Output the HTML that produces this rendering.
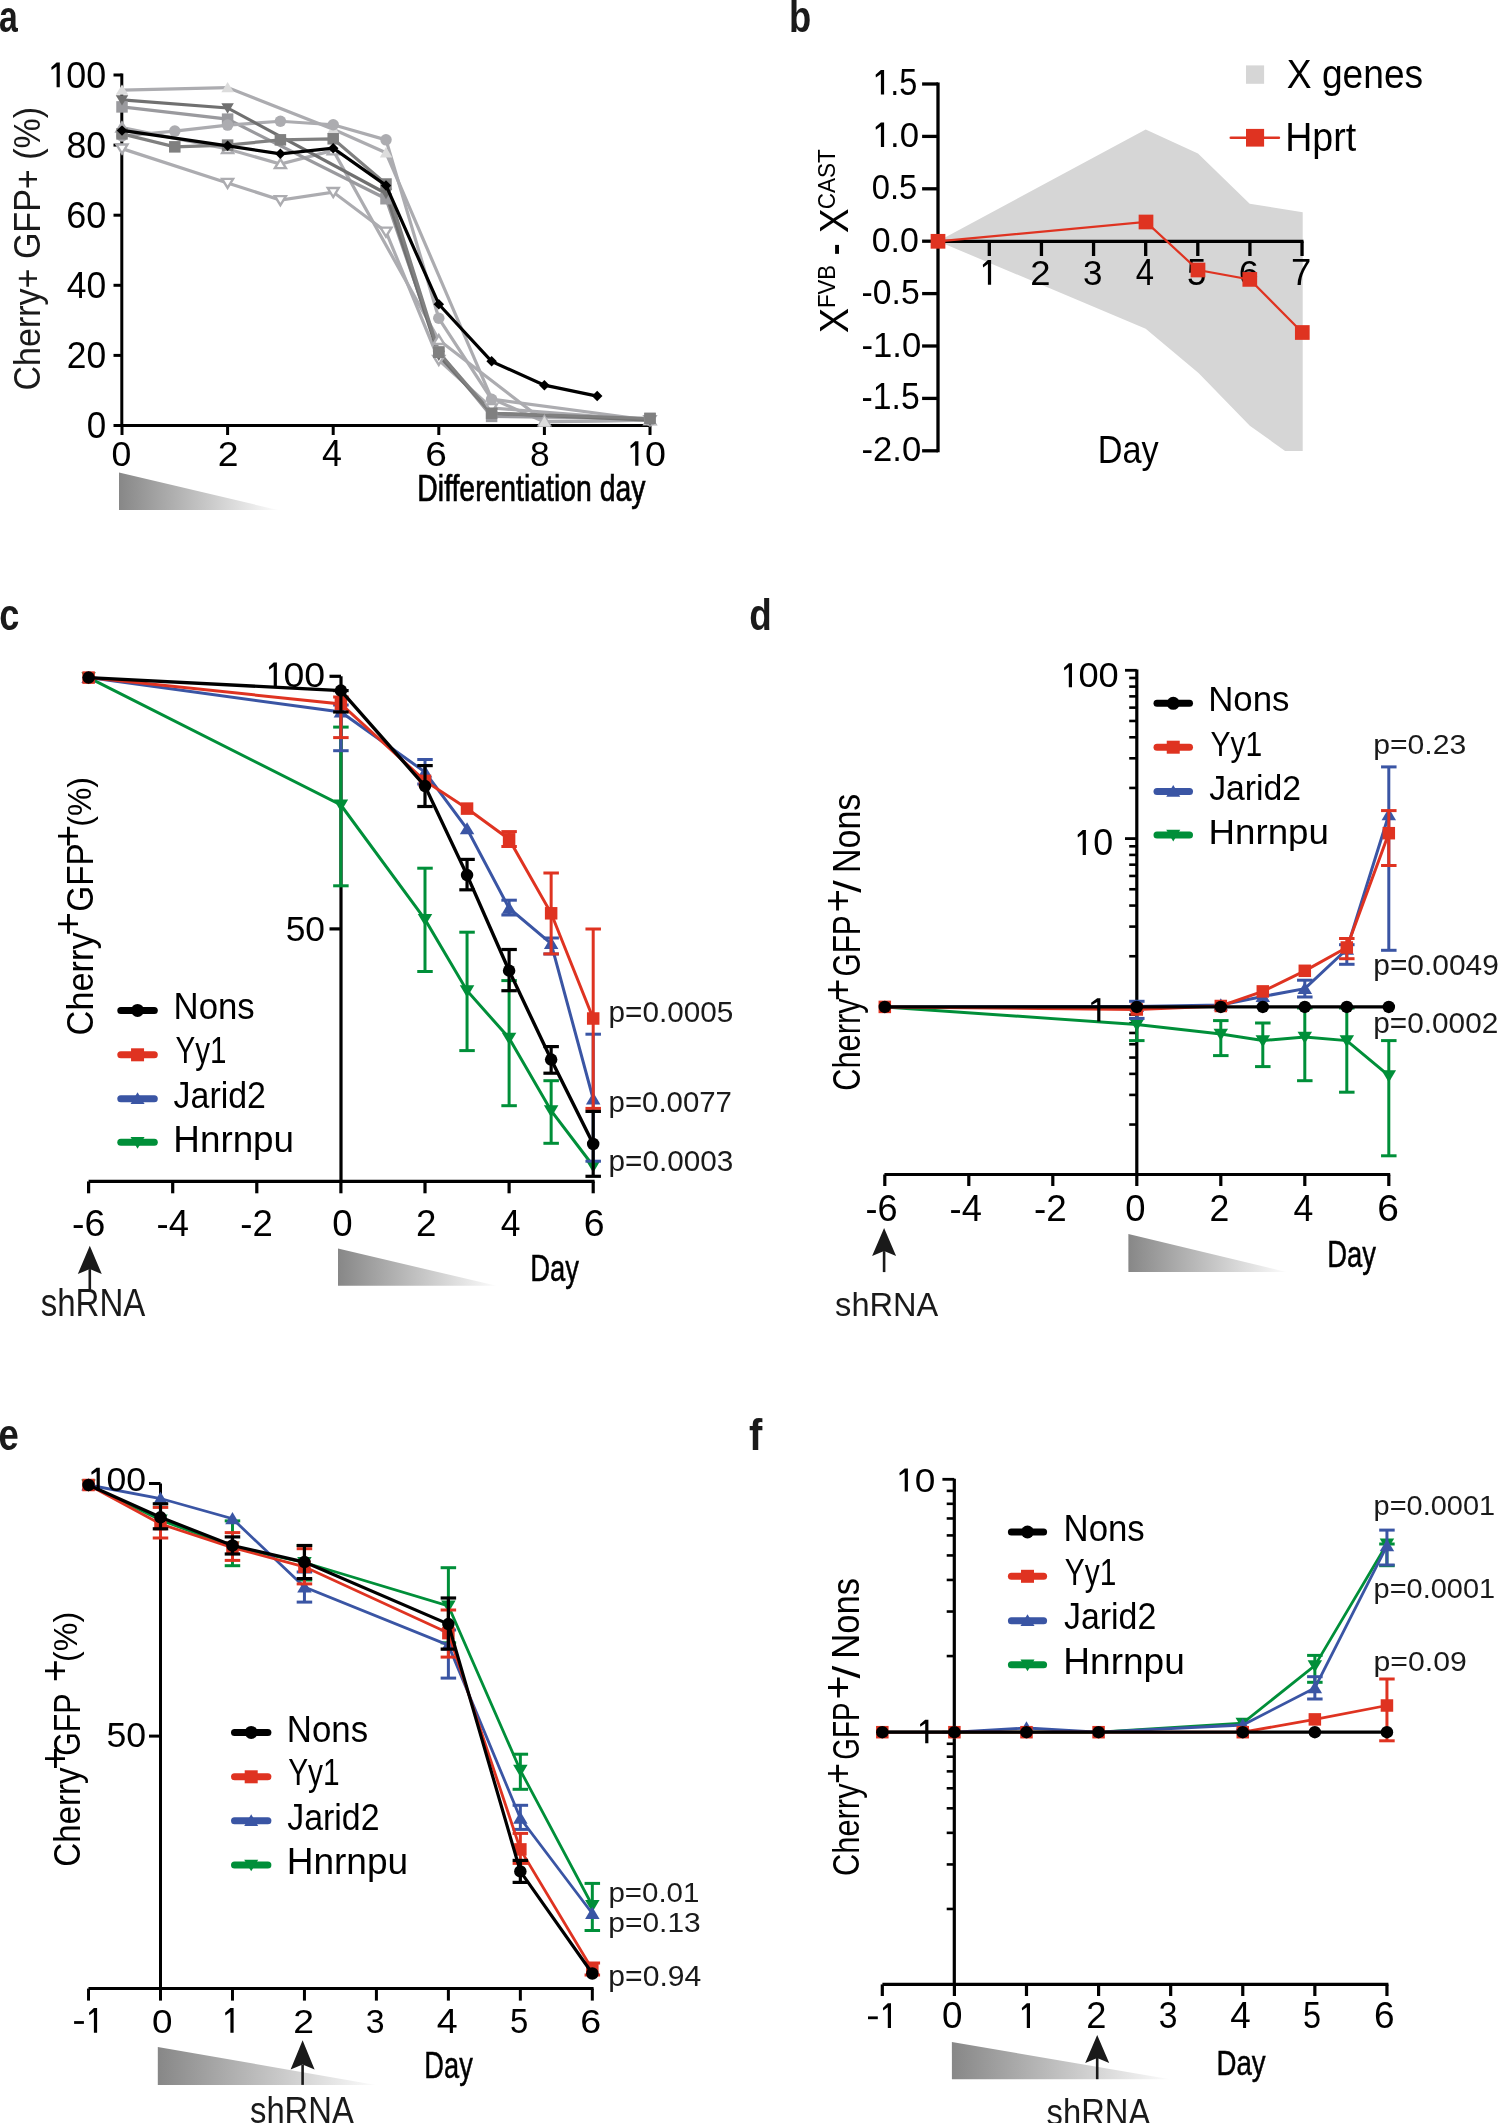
<!DOCTYPE html>
<html><head><meta charset="utf-8"><title>Figure</title>
<style>
html,body{margin:0;padding:0;background:#ffffff;overflow:hidden;}
svg{display:block;will-change:transform;}
text{font-family:"Liberation Sans",sans-serif;}
</style></head>
<body>
<svg width="1498" height="2123" viewBox="0 0 1498 2123">

<text transform="translate(-1.01,32.35) scale(0.7585,1)" font-size="44.57" font-weight="bold" fill="#1a1a1a">a</text>
<line x1="121.80" y1="73.60" x2="121.80" y2="427.00" stroke="#000000" stroke-width="3" stroke-linecap="butt"/>
<line x1="120.30" y1="425.50" x2="651.00" y2="425.50" stroke="#000000" stroke-width="3" stroke-linecap="butt"/>
<line x1="113.50" y1="425.50" x2="121.80" y2="425.50" stroke="#000000" stroke-width="3" stroke-linecap="butt"/>
<line x1="113.50" y1="355.40" x2="121.80" y2="355.40" stroke="#000000" stroke-width="3" stroke-linecap="butt"/>
<line x1="113.50" y1="285.30" x2="121.80" y2="285.30" stroke="#000000" stroke-width="3" stroke-linecap="butt"/>
<line x1="113.50" y1="215.20" x2="121.80" y2="215.20" stroke="#000000" stroke-width="3" stroke-linecap="butt"/>
<line x1="113.50" y1="145.10" x2="121.80" y2="145.10" stroke="#000000" stroke-width="3" stroke-linecap="butt"/>
<line x1="113.50" y1="75.00" x2="121.80" y2="75.00" stroke="#000000" stroke-width="3" stroke-linecap="butt"/>
<line x1="122.00" y1="425.50" x2="122.00" y2="435.00" stroke="#000000" stroke-width="3" stroke-linecap="butt"/>
<line x1="227.60" y1="425.50" x2="227.60" y2="435.00" stroke="#000000" stroke-width="3" stroke-linecap="butt"/>
<line x1="333.20" y1="425.50" x2="333.20" y2="435.00" stroke="#000000" stroke-width="3" stroke-linecap="butt"/>
<line x1="438.80" y1="425.50" x2="438.80" y2="435.00" stroke="#000000" stroke-width="3" stroke-linecap="butt"/>
<line x1="544.40" y1="425.50" x2="544.40" y2="435.00" stroke="#000000" stroke-width="3" stroke-linecap="butt"/>
<line x1="650.00" y1="425.50" x2="650.00" y2="435.00" stroke="#000000" stroke-width="3" stroke-linecap="butt"/>
<polyline points="122.00,127.57 227.60,148.96 280.40,164.03 333.20,150.36 438.80,339.98 544.40,421.29 650.00,420.24" fill="none" stroke="#acacb0" stroke-width="3.2" stroke-linejoin="miter"/>
<polyline points="122.00,148.61 227.60,182.95 280.40,200.13 333.20,192.07 386.00,231.67 438.80,359.96 491.60,407.98 650.00,420.24" fill="none" stroke="#acacb0" stroke-width="3.2" stroke-linejoin="miter"/>
<polyline points="122.00,90.07 227.60,87.62 333.20,129.33 386.00,152.81 491.60,398.51 544.40,422.00 650.00,420.24" fill="none" stroke="#acacb0" stroke-width="3.2" stroke-linejoin="miter"/>
<polyline points="122.00,106.90 227.60,119.16 386.00,198.73 438.80,351.89 491.60,416.39 650.00,418.49" fill="none" stroke="#9a9a9e" stroke-width="3.2" stroke-linejoin="miter"/>
<polyline points="122.00,135.99 174.80,131.08 227.60,125.12 280.40,121.27 333.20,124.77 386.00,139.84 438.80,318.25 491.60,399.21 650.00,420.24" fill="none" stroke="#acacb0" stroke-width="3.2" stroke-linejoin="miter"/>
<polyline points="122.00,99.89 227.60,107.95 386.00,193.47 438.80,355.40 491.60,413.23 650.00,420.24" fill="none" stroke="#707070" stroke-width="3.2" stroke-linejoin="miter"/>
<polyline points="122.00,133.88 174.80,146.85 227.60,145.10 280.40,139.84 333.20,138.79 386.00,184.01 438.80,352.25 491.60,413.23 650.00,418.49" fill="none" stroke="#808080" stroke-width="3.2" stroke-linejoin="miter"/>
<polygon points="122.00,122.62 127.50,131.62 116.50,131.62" fill="#ffffff" stroke="#acacb0" stroke-width="2.4"/>
<polygon points="227.60,144.01 233.10,153.01 222.10,153.01" fill="#ffffff" stroke="#acacb0" stroke-width="2.4"/>
<polygon points="280.40,159.08 285.90,168.08 274.90,168.08" fill="#ffffff" stroke="#acacb0" stroke-width="2.4"/>
<polygon points="333.20,145.41 338.70,154.41 327.70,154.41" fill="#ffffff" stroke="#acacb0" stroke-width="2.4"/>
<polygon points="438.80,335.03 444.30,344.03 433.30,344.03" fill="#ffffff" stroke="#acacb0" stroke-width="2.4"/>
<polygon points="544.40,416.34 549.90,425.34 538.90,425.34" fill="#ffffff" stroke="#acacb0" stroke-width="2.4"/>
<polygon points="650.00,415.29 655.50,424.29 644.50,424.29" fill="#ffffff" stroke="#acacb0" stroke-width="2.4"/>
<polygon points="122.00,153.56 127.50,144.56 116.50,144.56" fill="#ffffff" stroke="#acacb0" stroke-width="2.4"/>
<polygon points="227.60,187.90 233.10,178.90 222.10,178.90" fill="#ffffff" stroke="#acacb0" stroke-width="2.4"/>
<polygon points="280.40,205.08 285.90,196.08 274.90,196.08" fill="#ffffff" stroke="#acacb0" stroke-width="2.4"/>
<polygon points="333.20,197.02 338.70,188.02 327.70,188.02" fill="#ffffff" stroke="#acacb0" stroke-width="2.4"/>
<polygon points="386.00,236.62 391.50,227.62 380.50,227.62" fill="#ffffff" stroke="#acacb0" stroke-width="2.4"/>
<polygon points="438.80,364.91 444.30,355.91 433.30,355.91" fill="#ffffff" stroke="#acacb0" stroke-width="2.4"/>
<polygon points="491.60,412.93 497.10,403.93 486.10,403.93" fill="#ffffff" stroke="#acacb0" stroke-width="2.4"/>
<polygon points="650.00,425.19 655.50,416.19 644.50,416.19" fill="#ffffff" stroke="#acacb0" stroke-width="2.4"/>
<polygon points="122.00,84.38 128.25,94.73 115.75,94.73" fill="#dcdcdc" stroke="none" stroke-width="0"/>
<polygon points="227.60,81.93 233.85,92.28 221.35,92.28" fill="#dcdcdc" stroke="none" stroke-width="0"/>
<polygon points="333.20,123.63 339.45,133.98 326.95,133.98" fill="#dcdcdc" stroke="none" stroke-width="0"/>
<polygon points="386.00,147.12 392.25,157.47 379.75,157.47" fill="#dcdcdc" stroke="none" stroke-width="0"/>
<polygon points="491.60,392.82 497.85,403.17 485.35,403.17" fill="#dcdcdc" stroke="none" stroke-width="0"/>
<polygon points="544.40,416.30 550.65,426.65 538.15,426.65" fill="#dcdcdc" stroke="none" stroke-width="0"/>
<polygon points="650.00,414.55 656.25,424.90 643.75,424.90" fill="#dcdcdc" stroke="none" stroke-width="0"/>
<rect x="116.25" y="101.15" width="11.50" height="11.50" fill="#9a9a9e"/>
<rect x="221.85" y="113.41" width="11.50" height="11.50" fill="#9a9a9e"/>
<rect x="380.25" y="192.98" width="11.50" height="11.50" fill="#9a9a9e"/>
<rect x="433.05" y="346.14" width="11.50" height="11.50" fill="#9a9a9e"/>
<rect x="485.85" y="410.64" width="11.50" height="11.50" fill="#9a9a9e"/>
<rect x="644.25" y="412.74" width="11.50" height="11.50" fill="#9a9a9e"/>
<circle cx="122.00" cy="135.99" r="5.75" fill="#acacb0"/>
<circle cx="174.80" cy="131.08" r="5.75" fill="#acacb0"/>
<circle cx="227.60" cy="125.12" r="5.75" fill="#acacb0"/>
<circle cx="280.40" cy="121.27" r="5.75" fill="#acacb0"/>
<circle cx="333.20" cy="124.77" r="5.75" fill="#acacb0"/>
<circle cx="386.00" cy="139.84" r="5.75" fill="#acacb0"/>
<circle cx="438.80" cy="318.25" r="5.75" fill="#acacb0"/>
<circle cx="491.60" cy="399.21" r="5.75" fill="#acacb0"/>
<circle cx="650.00" cy="420.24" r="5.75" fill="#acacb0"/>
<polygon points="122.00,105.58 128.25,95.23 115.75,95.23" fill="#707070" stroke="none" stroke-width="0"/>
<polygon points="227.60,113.64 233.85,103.29 221.35,103.29" fill="#707070" stroke="none" stroke-width="0"/>
<polygon points="386.00,199.16 392.25,188.81 379.75,188.81" fill="#707070" stroke="none" stroke-width="0"/>
<polygon points="438.80,361.09 445.05,350.74 432.55,350.74" fill="#707070" stroke="none" stroke-width="0"/>
<polygon points="491.60,418.93 497.85,408.57 485.35,408.57" fill="#707070" stroke="none" stroke-width="0"/>
<polygon points="650.00,425.94 656.25,415.58 643.75,415.58" fill="#707070" stroke="none" stroke-width="0"/>
<rect x="116.25" y="128.13" width="11.50" height="11.50" fill="#808080"/>
<rect x="169.05" y="141.10" width="11.50" height="11.50" fill="#808080"/>
<rect x="221.85" y="139.35" width="11.50" height="11.50" fill="#808080"/>
<rect x="274.65" y="134.09" width="11.50" height="11.50" fill="#808080"/>
<rect x="327.45" y="133.04" width="11.50" height="11.50" fill="#808080"/>
<rect x="380.25" y="178.26" width="11.50" height="11.50" fill="#808080"/>
<rect x="433.05" y="346.50" width="11.50" height="11.50" fill="#808080"/>
<rect x="485.85" y="407.48" width="11.50" height="11.50" fill="#808080"/>
<rect x="644.25" y="412.74" width="11.50" height="11.50" fill="#808080"/>
<polyline points="122.00,130.38 227.60,145.80 280.40,153.86 333.20,148.25 386.00,185.41 438.80,304.23 491.60,361.36 544.40,385.19 597.20,396.06" fill="none" stroke="#000000" stroke-width="3.2" stroke-linejoin="miter"/>
<polygon points="122.00,125.13 127.25,130.38 122.00,135.63 116.75,130.38" fill="#000000" stroke="none" stroke-width="0"/>
<polygon points="227.60,140.55 232.85,145.80 227.60,151.05 222.35,145.80" fill="#000000" stroke="none" stroke-width="0"/>
<polygon points="280.40,148.61 285.65,153.86 280.40,159.11 275.15,153.86" fill="#000000" stroke="none" stroke-width="0"/>
<polygon points="333.20,143.00 338.45,148.25 333.20,153.50 327.95,148.25" fill="#000000" stroke="none" stroke-width="0"/>
<polygon points="386.00,180.16 391.25,185.41 386.00,190.66 380.75,185.41" fill="#000000" stroke="none" stroke-width="0"/>
<polygon points="438.80,298.98 444.05,304.23 438.80,309.48 433.55,304.23" fill="#000000" stroke="none" stroke-width="0"/>
<polygon points="491.60,356.11 496.85,361.36 491.60,366.61 486.35,361.36" fill="#000000" stroke="none" stroke-width="0"/>
<polygon points="544.40,379.94 549.65,385.19 544.40,390.44 539.15,385.19" fill="#000000" stroke="none" stroke-width="0"/>
<polygon points="597.20,390.81 602.45,396.06 597.20,401.31 591.95,396.06" fill="#000000" stroke="none" stroke-width="0"/>
<path d="M56.60,62.50 L59.80,62.50 L59.80,87.20 L56.60,87.20 L56.60,66.45 L51.60,69.91 L51.30,67.19 Z" fill="#000000"/>
<text transform="translate(66.37,87.70) scale(0.9841,1)" font-size="36.42" font-weight="normal" fill="#000000">00</text>
<text transform="translate(66.48,157.80) scale(0.9811,1)" font-size="36.42" font-weight="normal" fill="#000000">80</text>
<text transform="translate(66.20,227.90) scale(0.9883,1)" font-size="36.42" font-weight="normal" fill="#000000">60</text>
<text transform="translate(66.80,298.00) scale(0.9729,1)" font-size="36.42" font-weight="normal" fill="#000000">40</text>
<text transform="translate(66.83,368.10) scale(0.9722,1)" font-size="36.42" font-weight="normal" fill="#000000">20</text>
<text transform="translate(86.70,438.20) scale(0.9604,1)" font-size="36.42" font-weight="normal" fill="#000000">0</text>
<text transform="translate(111.58,466.00) scale(0.9933,1)" font-size="35.84" font-weight="normal" fill="#000000">0</text>
<text transform="translate(217.73,466.00) scale(1.0424,1)" font-size="35.84" font-weight="normal" fill="#000000">2</text>
<text transform="translate(322.09,466.00) scale(0.9856,1)" font-size="36.36" font-weight="normal" fill="#000000">4</text>
<text transform="translate(425.15,466.00) scale(1.0858,1)" font-size="35.84" font-weight="normal" fill="#000000">6</text>
<text transform="translate(530.10,466.00) scale(0.9854,1)" font-size="35.84" font-weight="normal" fill="#000000">8</text>
<path d="M635.20,441.20 L638.40,441.20 L638.40,465.80 L635.20,465.80 L635.20,445.14 L630.70,448.58 L630.40,445.87 Z" fill="#000000"/>
<text transform="translate(644.89,466.00) scale(1.0517,1)" font-size="35.84" font-weight="normal" fill="#000000">0</text>
<text transform="translate(417.36,500.60) scale(0.7879,1)" font-size="36.00" font-weight="normal" fill="#000000" stroke="#000000" stroke-width="0.7">Differentiation day</text>
<text transform="translate(40.00,390.50) rotate(-90) scale(0.9206,1)" font-size="36.97" font-weight="normal" fill="#1a1a1a">Cherry+ GFP+ (%)</text>
<defs><linearGradient id="ga" x1="119" y1="0" x2="278.2" y2="0" gradientUnits="userSpaceOnUse"><stop offset="0" stop-color="#878787"/><stop offset="1" stop-color="#fcfcfc"/></linearGradient></defs>
<polygon points="119.00,472.50 278.20,510.10 119.00,510.10" fill="url(#ga)" stroke="none" stroke-width="0"/>
<text transform="translate(789.03,32.15) scale(0.8165,1)" font-size="44.63" font-weight="bold" fill="#1a1a1a">b</text>
<polygon points="938.00,241.20 1145.70,129.40 1198.00,153.40 1249.70,203.70 1302.70,212.30 1302.70,450.90 1285.10,450.90 1249.80,425.80 1198.50,372.90 1145.70,328.80" fill="#d6d6d6" stroke="none" stroke-width="0"/>
<line x1="938.00" y1="82.50" x2="938.00" y2="452.30" stroke="#000000" stroke-width="3.3" stroke-linecap="butt"/>
<line x1="938.00" y1="241.30" x2="1303.50" y2="241.30" stroke="#000000" stroke-width="3.3" stroke-linecap="butt"/>
<line x1="922.10" y1="84.00" x2="938.00" y2="84.00" stroke="#000000" stroke-width="3.3" stroke-linecap="butt"/>
<line x1="922.10" y1="136.40" x2="938.00" y2="136.40" stroke="#000000" stroke-width="3.3" stroke-linecap="butt"/>
<line x1="922.10" y1="188.80" x2="938.00" y2="188.80" stroke="#000000" stroke-width="3.3" stroke-linecap="butt"/>
<line x1="922.10" y1="241.20" x2="938.00" y2="241.20" stroke="#000000" stroke-width="3.3" stroke-linecap="butt"/>
<line x1="922.10" y1="293.60" x2="938.00" y2="293.60" stroke="#000000" stroke-width="3.3" stroke-linecap="butt"/>
<line x1="922.10" y1="346.00" x2="938.00" y2="346.00" stroke="#000000" stroke-width="3.3" stroke-linecap="butt"/>
<line x1="922.10" y1="398.40" x2="938.00" y2="398.40" stroke="#000000" stroke-width="3.3" stroke-linecap="butt"/>
<line x1="922.10" y1="450.80" x2="938.00" y2="450.80" stroke="#000000" stroke-width="3.3" stroke-linecap="butt"/>
<line x1="989.32" y1="241.30" x2="989.32" y2="256.00" stroke="#000000" stroke-width="3.3" stroke-linecap="butt"/>
<line x1="1041.44" y1="241.30" x2="1041.44" y2="256.00" stroke="#000000" stroke-width="3.3" stroke-linecap="butt"/>
<line x1="1093.56" y1="241.30" x2="1093.56" y2="256.00" stroke="#000000" stroke-width="3.3" stroke-linecap="butt"/>
<line x1="1145.68" y1="241.30" x2="1145.68" y2="256.00" stroke="#000000" stroke-width="3.3" stroke-linecap="butt"/>
<line x1="1197.80" y1="241.30" x2="1197.80" y2="256.00" stroke="#000000" stroke-width="3.3" stroke-linecap="butt"/>
<line x1="1249.92" y1="241.30" x2="1249.92" y2="256.00" stroke="#000000" stroke-width="3.3" stroke-linecap="butt"/>
<line x1="1302.04" y1="241.30" x2="1302.04" y2="256.00" stroke="#000000" stroke-width="3.3" stroke-linecap="butt"/>
<path d="M880.90,70.00 L884.10,70.00 L884.10,94.60 L880.90,94.60 L880.90,73.94 L875.90,77.38 L875.60,74.67 Z" fill="#000000"/>
<text transform="translate(890.18,94.60) scale(0.8997,1)" font-size="36.07" font-weight="normal" fill="#000000">.5</text>
<path d="M880.90,122.40 L884.10,122.40 L884.10,147.00 L880.90,147.00 L880.90,126.34 L875.90,129.78 L875.60,127.07 Z" fill="#000000"/>
<text transform="translate(889.97,147.00) scale(0.9774,1)" font-size="35.56" font-weight="normal" fill="#000000">.0</text>
<text transform="translate(871.79,199.40) scale(0.9189,1)" font-size="35.56" font-weight="normal" fill="#000000">0.5</text>
<text transform="translate(871.74,251.80) scale(0.9536,1)" font-size="35.56" font-weight="normal" fill="#000000">0.0</text>
<text transform="translate(861.58,304.20) scale(0.9481,1)" font-size="35.56" font-weight="normal" fill="#000000">-0.5</text>
<text transform="translate(861.54,356.60) scale(0.9741,1)" font-size="35.56" font-weight="normal" fill="#000000">-1.0</text>
<text transform="translate(861.58,409.00) scale(0.9345,1)" font-size="36.07" font-weight="normal" fill="#000000">-1.5</text>
<text transform="translate(861.54,461.40) scale(0.9741,1)" font-size="35.56" font-weight="normal" fill="#000000">-2.0</text>
<path d="M987.90,260.00 L991.10,260.00 L991.10,284.70 L987.90,284.70 L987.90,263.95 L983.10,267.41 L982.80,264.69 Z" fill="#000000"/>
<text transform="translate(1030.32,284.90) scale(1.0261,1)" font-size="35.56" font-weight="normal" fill="#000000">2</text>
<text transform="translate(1082.95,284.90) scale(0.9829,1)" font-size="35.56" font-weight="normal" fill="#000000">3</text>
<text transform="translate(1135.64,284.90) scale(0.9113,1)" font-size="36.07" font-weight="normal" fill="#000000">4</text>
<text transform="translate(1187.10,284.90) scale(0.9688,1)" font-size="36.07" font-weight="normal" fill="#000000">5</text>
<text transform="translate(1238.83,284.90) scale(1.0095,1)" font-size="35.56" font-weight="normal" fill="#000000">6</text>
<text transform="translate(1290.92,284.90) scale(1.0114,1)" font-size="36.07" font-weight="normal" fill="#000000">7</text>
<text transform="translate(1097.67,463.10) scale(0.9027,1)" font-size="37.96" font-weight="normal" fill="#000000">Day</text>
<polyline points="938.00,241.30 1146.00,222.00 1198.00,270.00 1249.80,279.40 1302.30,332.50" fill="none" stroke="#df3321" stroke-width="2.2" stroke-linejoin="miter"/>
<rect x="930.65" y="233.95" width="14.70" height="14.70" fill="#df3321"/>
<rect x="1138.65" y="214.65" width="14.70" height="14.70" fill="#df3321"/>
<rect x="1190.65" y="262.65" width="14.70" height="14.70" fill="#df3321"/>
<rect x="1242.45" y="272.05" width="14.70" height="14.70" fill="#df3321"/>
<rect x="1294.95" y="325.15" width="14.70" height="14.70" fill="#df3321"/>
<rect x="1246" y="65.4" width="18.1" height="18.4" fill="#d6d6d6"/>
<text transform="translate(1286.76,87.90) scale(0.9161,1)" font-size="40.58" font-weight="normal" fill="#000000">X genes</text>
<line x1="1230.80" y1="137.70" x2="1278.90" y2="137.70" stroke="#df3321" stroke-width="2.6" stroke-linecap="round"/>
<rect x="1246" y="128.9" width="18.1" height="17.7" fill="#df3321"/>
<text transform="translate(1285.20,150.60) scale(0.9389,1)" font-size="40.00" font-weight="normal" fill="#000000">Hprt</text>
<text transform="translate(847.90,332.94) rotate(-90) scale(0.9324,1)" font-size="40.15" font-weight="normal" fill="#000000">X</text>
<text transform="translate(835.10,307.93) rotate(-90) scale(0.9121,1)" font-size="24.29" font-weight="normal" fill="#000000">FVB</text>
<text transform="translate(850.45,255.55) rotate(-90) scale(0.7300,1)" font-size="50.32" font-weight="normal" fill="#000000">-</text>
<text transform="translate(847.80,233.03) rotate(-90) scale(0.9137,1)" font-size="40.44" font-weight="normal" fill="#000000">X</text>
<text transform="translate(834.80,209.33) rotate(-90) scale(0.9672,1)" font-size="23.37" font-weight="normal" fill="#000000">CAST</text>
<text transform="translate(-0.64,630.06) scale(0.8134,1)" font-size="44.38" font-weight="bold" fill="#1a1a1a">c</text>
<line x1="341.00" y1="676.30" x2="341.00" y2="1183.00" stroke="#000000" stroke-width="3.2" stroke-linecap="butt"/>
<line x1="88.60" y1="1181.40" x2="594.60" y2="1181.40" stroke="#000000" stroke-width="3.2" stroke-linecap="butt"/>
<line x1="329.50" y1="676.30" x2="341.00" y2="676.30" stroke="#000000" stroke-width="3.2" stroke-linecap="butt"/>
<line x1="329.50" y1="928.90" x2="341.00" y2="928.90" stroke="#000000" stroke-width="3.2" stroke-linecap="butt"/>
<line x1="88.60" y1="1181.40" x2="88.60" y2="1193.30" stroke="#000000" stroke-width="3.2" stroke-linecap="butt"/>
<line x1="172.70" y1="1181.40" x2="172.70" y2="1193.30" stroke="#000000" stroke-width="3.2" stroke-linecap="butt"/>
<line x1="256.80" y1="1181.40" x2="256.80" y2="1193.30" stroke="#000000" stroke-width="3.2" stroke-linecap="butt"/>
<line x1="340.90" y1="1181.40" x2="340.90" y2="1193.30" stroke="#000000" stroke-width="3.2" stroke-linecap="butt"/>
<line x1="425.00" y1="1181.40" x2="425.00" y2="1193.30" stroke="#000000" stroke-width="3.2" stroke-linecap="butt"/>
<line x1="509.10" y1="1181.40" x2="509.10" y2="1193.30" stroke="#000000" stroke-width="3.2" stroke-linecap="butt"/>
<line x1="593.20" y1="1181.40" x2="593.20" y2="1193.30" stroke="#000000" stroke-width="3.2" stroke-linecap="butt"/>
<line x1="340.90" y1="727.10" x2="340.90" y2="885.80" stroke="#008f39" stroke-width="3.0" stroke-linecap="butt"/>
<line x1="333.15" y1="727.10" x2="348.65" y2="727.10" stroke="#008f39" stroke-width="3.0" stroke-linecap="butt"/>
<line x1="333.15" y1="885.80" x2="348.65" y2="885.80" stroke="#008f39" stroke-width="3.0" stroke-linecap="butt"/>
<line x1="425.00" y1="868.20" x2="425.00" y2="971.50" stroke="#008f39" stroke-width="3.0" stroke-linecap="butt"/>
<line x1="417.25" y1="868.20" x2="432.75" y2="868.20" stroke="#008f39" stroke-width="3.0" stroke-linecap="butt"/>
<line x1="417.25" y1="971.50" x2="432.75" y2="971.50" stroke="#008f39" stroke-width="3.0" stroke-linecap="butt"/>
<line x1="467.05" y1="932.20" x2="467.05" y2="1050.60" stroke="#008f39" stroke-width="3.0" stroke-linecap="butt"/>
<line x1="459.30" y1="932.20" x2="474.80" y2="932.20" stroke="#008f39" stroke-width="3.0" stroke-linecap="butt"/>
<line x1="459.30" y1="1050.60" x2="474.80" y2="1050.60" stroke="#008f39" stroke-width="3.0" stroke-linecap="butt"/>
<line x1="509.10" y1="980.60" x2="509.10" y2="1105.70" stroke="#008f39" stroke-width="3.0" stroke-linecap="butt"/>
<line x1="501.35" y1="980.60" x2="516.85" y2="980.60" stroke="#008f39" stroke-width="3.0" stroke-linecap="butt"/>
<line x1="501.35" y1="1105.70" x2="516.85" y2="1105.70" stroke="#008f39" stroke-width="3.0" stroke-linecap="butt"/>
<line x1="551.15" y1="1080.70" x2="551.15" y2="1143.30" stroke="#008f39" stroke-width="3.0" stroke-linecap="butt"/>
<line x1="543.40" y1="1080.70" x2="558.90" y2="1080.70" stroke="#008f39" stroke-width="3.0" stroke-linecap="butt"/>
<line x1="543.40" y1="1143.30" x2="558.90" y2="1143.30" stroke="#008f39" stroke-width="3.0" stroke-linecap="butt"/>
<polyline points="88.60,677.60 340.90,805.00 425.00,919.40 467.05,990.70 509.10,1038.10 551.15,1110.70 593.20,1166.00" fill="none" stroke="#008f39" stroke-width="3.0" stroke-linejoin="miter"/>
<polygon points="88.60,684.28 95.85,672.13 81.35,672.13" fill="#008f39" stroke="none" stroke-width="0"/>
<polygon points="340.90,811.68 348.15,799.53 333.65,799.53" fill="#008f39" stroke="none" stroke-width="0"/>
<polygon points="425.00,926.08 432.25,913.93 417.75,913.93" fill="#008f39" stroke="none" stroke-width="0"/>
<polygon points="467.05,997.38 474.30,985.23 459.80,985.23" fill="#008f39" stroke="none" stroke-width="0"/>
<polygon points="509.10,1044.78 516.35,1032.63 501.85,1032.63" fill="#008f39" stroke="none" stroke-width="0"/>
<polygon points="551.15,1117.38 558.40,1105.23 543.90,1105.23" fill="#008f39" stroke="none" stroke-width="0"/>
<polygon points="593.20,1172.68 600.45,1160.53 585.95,1160.53" fill="#008f39" stroke="none" stroke-width="0"/>
<line x1="340.90" y1="705.00" x2="340.90" y2="750.70" stroke="#3a55a4" stroke-width="3.0" stroke-linecap="butt"/>
<line x1="333.15" y1="705.00" x2="348.65" y2="705.00" stroke="#3a55a4" stroke-width="3.0" stroke-linecap="butt"/>
<line x1="333.15" y1="750.70" x2="348.65" y2="750.70" stroke="#3a55a4" stroke-width="3.0" stroke-linecap="butt"/>
<line x1="425.00" y1="759.50" x2="425.00" y2="784.00" stroke="#3a55a4" stroke-width="3.0" stroke-linecap="butt"/>
<line x1="417.25" y1="759.50" x2="432.75" y2="759.50" stroke="#3a55a4" stroke-width="3.0" stroke-linecap="butt"/>
<line x1="417.25" y1="784.00" x2="432.75" y2="784.00" stroke="#3a55a4" stroke-width="3.0" stroke-linecap="butt"/>
<line x1="509.10" y1="900.20" x2="509.10" y2="915.00" stroke="#3a55a4" stroke-width="3.0" stroke-linecap="butt"/>
<line x1="501.35" y1="900.20" x2="516.85" y2="900.20" stroke="#3a55a4" stroke-width="3.0" stroke-linecap="butt"/>
<line x1="501.35" y1="915.00" x2="516.85" y2="915.00" stroke="#3a55a4" stroke-width="3.0" stroke-linecap="butt"/>
<line x1="551.15" y1="938.00" x2="551.15" y2="954.00" stroke="#3a55a4" stroke-width="3.0" stroke-linecap="butt"/>
<line x1="543.40" y1="938.00" x2="558.90" y2="938.00" stroke="#3a55a4" stroke-width="3.0" stroke-linecap="butt"/>
<line x1="543.40" y1="954.00" x2="558.90" y2="954.00" stroke="#3a55a4" stroke-width="3.0" stroke-linecap="butt"/>
<line x1="593.20" y1="1034.20" x2="593.20" y2="1161.20" stroke="#3a55a4" stroke-width="3.0" stroke-linecap="butt"/>
<line x1="585.45" y1="1034.20" x2="600.95" y2="1034.20" stroke="#3a55a4" stroke-width="3.0" stroke-linecap="butt"/>
<line x1="585.45" y1="1161.20" x2="600.95" y2="1161.20" stroke="#3a55a4" stroke-width="3.0" stroke-linecap="butt"/>
<polyline points="88.60,677.60 340.90,712.00 425.00,772.00 467.05,828.90 509.10,908.20 551.15,943.50 593.20,1099.00" fill="none" stroke="#3a55a4" stroke-width="3.0" stroke-linejoin="miter"/>
<polygon points="88.60,670.92 95.85,683.07 81.35,683.07" fill="#3a55a4" stroke="none" stroke-width="0"/>
<polygon points="340.90,705.32 348.15,717.47 333.65,717.47" fill="#3a55a4" stroke="none" stroke-width="0"/>
<polygon points="425.00,765.32 432.25,777.47 417.75,777.47" fill="#3a55a4" stroke="none" stroke-width="0"/>
<polygon points="467.05,822.22 474.30,834.37 459.80,834.37" fill="#3a55a4" stroke="none" stroke-width="0"/>
<polygon points="509.10,901.52 516.35,913.67 501.85,913.67" fill="#3a55a4" stroke="none" stroke-width="0"/>
<polygon points="551.15,936.82 558.40,948.97 543.90,948.97" fill="#3a55a4" stroke="none" stroke-width="0"/>
<polygon points="593.20,1092.32 600.45,1104.47 585.95,1104.47" fill="#3a55a4" stroke="none" stroke-width="0"/>
<line x1="340.90" y1="697.00" x2="340.90" y2="737.60" stroke="#df3321" stroke-width="3.0" stroke-linecap="butt"/>
<line x1="333.15" y1="697.00" x2="348.65" y2="697.00" stroke="#df3321" stroke-width="3.0" stroke-linecap="butt"/>
<line x1="333.15" y1="737.60" x2="348.65" y2="737.60" stroke="#df3321" stroke-width="3.0" stroke-linecap="butt"/>
<line x1="509.10" y1="831.60" x2="509.10" y2="846.50" stroke="#df3321" stroke-width="3.0" stroke-linecap="butt"/>
<line x1="501.35" y1="831.60" x2="516.85" y2="831.60" stroke="#df3321" stroke-width="3.0" stroke-linecap="butt"/>
<line x1="501.35" y1="846.50" x2="516.85" y2="846.50" stroke="#df3321" stroke-width="3.0" stroke-linecap="butt"/>
<line x1="551.15" y1="873.00" x2="551.15" y2="953.90" stroke="#df3321" stroke-width="3.0" stroke-linecap="butt"/>
<line x1="543.40" y1="873.00" x2="558.90" y2="873.00" stroke="#df3321" stroke-width="3.0" stroke-linecap="butt"/>
<line x1="543.40" y1="953.90" x2="558.90" y2="953.90" stroke="#df3321" stroke-width="3.0" stroke-linecap="butt"/>
<line x1="593.20" y1="929.00" x2="593.20" y2="1108.40" stroke="#df3321" stroke-width="3.0" stroke-linecap="butt"/>
<line x1="585.45" y1="929.00" x2="600.95" y2="929.00" stroke="#df3321" stroke-width="3.0" stroke-linecap="butt"/>
<line x1="585.45" y1="1108.40" x2="600.95" y2="1108.40" stroke="#df3321" stroke-width="3.0" stroke-linecap="butt"/>
<polyline points="88.60,677.60 340.90,704.00 425.00,780.90 467.05,808.60 509.10,839.30 551.15,913.30 593.20,1018.50" fill="none" stroke="#df3321" stroke-width="3.0" stroke-linejoin="miter"/>
<rect x="82.35" y="671.35" width="12.50" height="12.50" fill="#df3321"/>
<rect x="334.65" y="697.75" width="12.50" height="12.50" fill="#df3321"/>
<rect x="418.75" y="774.65" width="12.50" height="12.50" fill="#df3321"/>
<rect x="460.80" y="802.35" width="12.50" height="12.50" fill="#df3321"/>
<rect x="502.85" y="833.05" width="12.50" height="12.50" fill="#df3321"/>
<rect x="544.90" y="907.05" width="12.50" height="12.50" fill="#df3321"/>
<rect x="586.95" y="1012.25" width="12.50" height="12.50" fill="#df3321"/>
<line x1="340.90" y1="690.60" x2="340.90" y2="712.00" stroke="#000000" stroke-width="3.2" stroke-linecap="butt"/>
<line x1="333.15" y1="690.60" x2="348.65" y2="690.60" stroke="#000000" stroke-width="3.2" stroke-linecap="butt"/>
<line x1="333.15" y1="712.00" x2="348.65" y2="712.00" stroke="#000000" stroke-width="3.2" stroke-linecap="butt"/>
<line x1="425.00" y1="765.60" x2="425.00" y2="806.50" stroke="#000000" stroke-width="3.2" stroke-linecap="butt"/>
<line x1="417.25" y1="765.60" x2="432.75" y2="765.60" stroke="#000000" stroke-width="3.2" stroke-linecap="butt"/>
<line x1="417.25" y1="806.50" x2="432.75" y2="806.50" stroke="#000000" stroke-width="3.2" stroke-linecap="butt"/>
<line x1="467.05" y1="859.40" x2="467.05" y2="889.80" stroke="#000000" stroke-width="3.2" stroke-linecap="butt"/>
<line x1="459.30" y1="859.40" x2="474.80" y2="859.40" stroke="#000000" stroke-width="3.2" stroke-linecap="butt"/>
<line x1="459.30" y1="889.80" x2="474.80" y2="889.80" stroke="#000000" stroke-width="3.2" stroke-linecap="butt"/>
<line x1="509.10" y1="949.50" x2="509.10" y2="990.70" stroke="#000000" stroke-width="3.2" stroke-linecap="butt"/>
<line x1="501.35" y1="949.50" x2="516.85" y2="949.50" stroke="#000000" stroke-width="3.2" stroke-linecap="butt"/>
<line x1="501.35" y1="990.70" x2="516.85" y2="990.70" stroke="#000000" stroke-width="3.2" stroke-linecap="butt"/>
<line x1="551.15" y1="1046.60" x2="551.15" y2="1073.20" stroke="#000000" stroke-width="3.2" stroke-linecap="butt"/>
<line x1="543.40" y1="1046.60" x2="558.90" y2="1046.60" stroke="#000000" stroke-width="3.2" stroke-linecap="butt"/>
<line x1="543.40" y1="1073.20" x2="558.90" y2="1073.20" stroke="#000000" stroke-width="3.2" stroke-linecap="butt"/>
<line x1="593.20" y1="1111.40" x2="593.20" y2="1176.30" stroke="#000000" stroke-width="3.2" stroke-linecap="butt"/>
<line x1="585.45" y1="1111.40" x2="600.95" y2="1111.40" stroke="#000000" stroke-width="3.2" stroke-linecap="butt"/>
<line x1="585.45" y1="1176.30" x2="600.95" y2="1176.30" stroke="#000000" stroke-width="3.2" stroke-linecap="butt"/>
<polyline points="88.60,677.60 340.90,690.60 425.00,786.10 467.05,875.10 509.10,970.70 551.15,1059.60 593.20,1144.00" fill="none" stroke="#000000" stroke-width="3.4" stroke-linejoin="miter"/>
<circle cx="88.60" cy="677.60" r="6.25" fill="#000000"/>
<circle cx="340.90" cy="690.60" r="6.25" fill="#000000"/>
<circle cx="425.00" cy="786.10" r="6.25" fill="#000000"/>
<circle cx="467.05" cy="875.10" r="6.25" fill="#000000"/>
<circle cx="509.10" cy="970.70" r="6.25" fill="#000000"/>
<circle cx="551.15" cy="1059.60" r="6.25" fill="#000000"/>
<circle cx="593.20" cy="1144.00" r="6.25" fill="#000000"/>
<path d="M273.70,662.60 L276.90,662.60 L276.90,686.30 L273.70,686.30 L273.70,666.39 L269.20,669.71 L268.90,667.10 Z" fill="#000000"/>
<text transform="translate(283.40,686.50) scale(1.0848,1)" font-size="34.55" font-weight="normal" fill="#000000">00</text>
<text transform="translate(285.69,940.50) scale(1.0231,1)" font-size="34.55" font-weight="normal" fill="#000000">50</text>
<text transform="translate(72.01,1235.50) scale(1.0338,1)" font-size="36.27" font-weight="normal" fill="#000000">-6</text>
<text transform="translate(156.57,1235.50) scale(0.9869,1)" font-size="36.80" font-weight="normal" fill="#000000">-4</text>
<text transform="translate(240.25,1235.50) scale(1.0088,1)" font-size="36.27" font-weight="normal" fill="#000000">-2</text>
<text transform="translate(332.33,1235.50) scale(1.0104,1)" font-size="36.27" font-weight="normal" fill="#000000">0</text>
<text transform="translate(416.06,1235.50) scale(1.0119,1)" font-size="36.27" font-weight="normal" fill="#000000">2</text>
<text transform="translate(500.70,1235.50) scale(0.9632,1)" font-size="36.80" font-weight="normal" fill="#000000">4</text>
<text transform="translate(583.73,1235.50) scale(1.0312,1)" font-size="36.27" font-weight="normal" fill="#000000">6</text>
<line x1="120.80" y1="1010.40" x2="154.30" y2="1010.40" stroke="#000000" stroke-width="7" stroke-linecap="round"/>
<circle cx="137.55" cy="1010.40" r="6.50" fill="#000000"/>
<text transform="translate(173.53,1019.10) scale(0.9411,1)" font-size="36.95" font-weight="normal" fill="#000000">Nons</text>
<line x1="120.80" y1="1054.80" x2="154.30" y2="1054.80" stroke="#df3321" stroke-width="7" stroke-linecap="round"/>
<rect x="131.05" y="1048.30" width="13.00" height="13.00" fill="#df3321"/>
<text transform="translate(175.43,1063.40) scale(0.8105,1)" font-size="36.51" font-weight="normal" fill="#000000">Yy1</text>
<line x1="120.80" y1="1098.80" x2="154.30" y2="1098.80" stroke="#3a55a4" stroke-width="7" stroke-linecap="round"/>
<polygon points="137.55,1092.37 144.55,1104.07 130.55,1104.07" fill="#3a55a4" stroke="none" stroke-width="0"/>
<text transform="translate(173.59,1107.80) scale(0.9346,1)" font-size="36.28" font-weight="normal" fill="#000000">Jarid2</text>
<line x1="120.80" y1="1142.20" x2="154.30" y2="1142.20" stroke="#008f39" stroke-width="7" stroke-linecap="round"/>
<polygon points="137.55,1148.63 144.55,1136.93 130.55,1136.93" fill="#008f39" stroke="none" stroke-width="0"/>
<text transform="translate(173.36,1151.80) scale(0.9884,1)" font-size="37.24" font-weight="normal" fill="#000000">Hnrnpu</text>
<text transform="translate(608.57,1022.40) scale(1.0061,1)" font-size="29.53" font-weight="normal" fill="#1a1a1a">p=0.0005</text>
<text transform="translate(608.59,1111.60) scale(0.9904,1)" font-size="29.68" font-weight="normal" fill="#1a1a1a">p=0.0077</text>
<text transform="translate(608.57,1170.80) scale(1.0165,1)" font-size="29.25" font-weight="normal" fill="#1a1a1a">p=0.0003</text>
<defs><linearGradient id="gc" x1="338" y1="0" x2="496.5" y2="0" gradientUnits="userSpaceOnUse"><stop offset="0" stop-color="#878787"/><stop offset="1" stop-color="#fcfcfc"/></linearGradient></defs>
<polygon points="338.00,1248.60 496.50,1285.80 338.00,1285.80" fill="url(#gc)" stroke="none" stroke-width="0"/>
<polygon points="89.80,1245.70 101.80,1274.10 89.80,1269.10 77.80,1274.10" fill="#1a1a1a" stroke="none" stroke-width="0"/>
<line x1="89.80" y1="1269.10" x2="89.80" y2="1290.20" stroke="#1a1a1a" stroke-width="2.6" stroke-linecap="butt"/>
<text transform="translate(40.69,1315.80) scale(0.8674,1)" font-size="38.07" font-weight="normal" fill="#1a1a1a">shRNA</text>
<text transform="translate(530.14,1280.70) scale(0.7479,1)" font-size="36.65" font-weight="normal" fill="#000000" stroke="#000000" stroke-width="0.5">Day</text>
<text transform="translate(93.10,1035.42) rotate(-90) scale(0.9263,1)" font-size="37.10" font-weight="normal" fill="#000000">Cherry</text>
<text transform="translate(82.47,935.63) rotate(-90) scale(0.9951,1)" font-size="40.82" font-weight="normal" fill="#000000">+</text>
<text transform="translate(93.10,911.77) rotate(-90) scale(0.8910,1)" font-size="37.42" font-weight="normal" fill="#000000">GFP</text>
<text transform="translate(82.47,847.45) rotate(-90) scale(0.9549,1)" font-size="40.82" font-weight="normal" fill="#000000">+</text>
<text transform="translate(90.66,826.70) rotate(-90) scale(0.9556,1)" font-size="33.46" font-weight="normal" fill="#000000">(%)</text>
<text transform="translate(749.13,630.35) scale(0.8253,1)" font-size="44.63" font-weight="bold" fill="#1a1a1a">d</text>
<line x1="1136.80" y1="669.60" x2="1136.80" y2="1176.00" stroke="#000000" stroke-width="3.2" stroke-linecap="butt"/>
<line x1="884.40" y1="1174.50" x2="1390.20" y2="1174.50" stroke="#000000" stroke-width="3.2" stroke-linecap="butt"/>
<line x1="1125.00" y1="1006.90" x2="1136.80" y2="1006.90" stroke="#000000" stroke-width="2.8" stroke-linecap="butt"/>
<line x1="1125.00" y1="838.60" x2="1136.80" y2="838.60" stroke="#000000" stroke-width="2.8" stroke-linecap="butt"/>
<line x1="1125.00" y1="670.30" x2="1136.80" y2="670.30" stroke="#000000" stroke-width="2.8" stroke-linecap="butt"/>
<line x1="1129.20" y1="1124.54" x2="1136.80" y2="1124.54" stroke="#000000" stroke-width="2.6" stroke-linecap="butt"/>
<line x1="1129.20" y1="1094.90" x2="1136.80" y2="1094.90" stroke="#000000" stroke-width="2.6" stroke-linecap="butt"/>
<line x1="1129.20" y1="1073.87" x2="1136.80" y2="1073.87" stroke="#000000" stroke-width="2.6" stroke-linecap="butt"/>
<line x1="1129.20" y1="1057.56" x2="1136.80" y2="1057.56" stroke="#000000" stroke-width="2.6" stroke-linecap="butt"/>
<line x1="1129.20" y1="1044.24" x2="1136.80" y2="1044.24" stroke="#000000" stroke-width="2.6" stroke-linecap="butt"/>
<line x1="1129.20" y1="1032.97" x2="1136.80" y2="1032.97" stroke="#000000" stroke-width="2.6" stroke-linecap="butt"/>
<line x1="1129.20" y1="1023.21" x2="1136.80" y2="1023.21" stroke="#000000" stroke-width="2.6" stroke-linecap="butt"/>
<line x1="1129.20" y1="1014.60" x2="1136.80" y2="1014.60" stroke="#000000" stroke-width="2.6" stroke-linecap="butt"/>
<line x1="1129.20" y1="956.24" x2="1136.80" y2="956.24" stroke="#000000" stroke-width="2.6" stroke-linecap="butt"/>
<line x1="1129.20" y1="926.60" x2="1136.80" y2="926.60" stroke="#000000" stroke-width="2.6" stroke-linecap="butt"/>
<line x1="1129.20" y1="905.57" x2="1136.80" y2="905.57" stroke="#000000" stroke-width="2.6" stroke-linecap="butt"/>
<line x1="1129.20" y1="889.26" x2="1136.80" y2="889.26" stroke="#000000" stroke-width="2.6" stroke-linecap="butt"/>
<line x1="1129.20" y1="875.94" x2="1136.80" y2="875.94" stroke="#000000" stroke-width="2.6" stroke-linecap="butt"/>
<line x1="1129.20" y1="864.67" x2="1136.80" y2="864.67" stroke="#000000" stroke-width="2.6" stroke-linecap="butt"/>
<line x1="1129.20" y1="854.91" x2="1136.80" y2="854.91" stroke="#000000" stroke-width="2.6" stroke-linecap="butt"/>
<line x1="1129.20" y1="846.30" x2="1136.80" y2="846.30" stroke="#000000" stroke-width="2.6" stroke-linecap="butt"/>
<line x1="1129.20" y1="787.94" x2="1136.80" y2="787.94" stroke="#000000" stroke-width="2.6" stroke-linecap="butt"/>
<line x1="1129.20" y1="758.30" x2="1136.80" y2="758.30" stroke="#000000" stroke-width="2.6" stroke-linecap="butt"/>
<line x1="1129.20" y1="737.27" x2="1136.80" y2="737.27" stroke="#000000" stroke-width="2.6" stroke-linecap="butt"/>
<line x1="1129.20" y1="720.96" x2="1136.80" y2="720.96" stroke="#000000" stroke-width="2.6" stroke-linecap="butt"/>
<line x1="1129.20" y1="707.64" x2="1136.80" y2="707.64" stroke="#000000" stroke-width="2.6" stroke-linecap="butt"/>
<line x1="1129.20" y1="696.37" x2="1136.80" y2="696.37" stroke="#000000" stroke-width="2.6" stroke-linecap="butt"/>
<line x1="1129.20" y1="686.61" x2="1136.80" y2="686.61" stroke="#000000" stroke-width="2.6" stroke-linecap="butt"/>
<line x1="1129.20" y1="678.00" x2="1136.80" y2="678.00" stroke="#000000" stroke-width="2.6" stroke-linecap="butt"/>
<line x1="1136.80" y1="1008.00" x2="1136.80" y2="1040.60" stroke="#008f39" stroke-width="3.0" stroke-linecap="butt"/>
<line x1="1129.05" y1="1008.00" x2="1144.55" y2="1008.00" stroke="#008f39" stroke-width="3.0" stroke-linecap="butt"/>
<line x1="1129.05" y1="1040.60" x2="1144.55" y2="1040.60" stroke="#008f39" stroke-width="3.0" stroke-linecap="butt"/>
<line x1="1220.80" y1="1020.60" x2="1220.80" y2="1055.60" stroke="#008f39" stroke-width="3.0" stroke-linecap="butt"/>
<line x1="1213.05" y1="1020.60" x2="1228.55" y2="1020.60" stroke="#008f39" stroke-width="3.0" stroke-linecap="butt"/>
<line x1="1213.05" y1="1055.60" x2="1228.55" y2="1055.60" stroke="#008f39" stroke-width="3.0" stroke-linecap="butt"/>
<line x1="1262.80" y1="1023.00" x2="1262.80" y2="1066.60" stroke="#008f39" stroke-width="3.0" stroke-linecap="butt"/>
<line x1="1255.05" y1="1023.00" x2="1270.55" y2="1023.00" stroke="#008f39" stroke-width="3.0" stroke-linecap="butt"/>
<line x1="1255.05" y1="1066.60" x2="1270.55" y2="1066.60" stroke="#008f39" stroke-width="3.0" stroke-linecap="butt"/>
<line x1="1304.80" y1="1008.00" x2="1304.80" y2="1080.70" stroke="#008f39" stroke-width="3.0" stroke-linecap="butt"/>
<line x1="1297.05" y1="1008.00" x2="1312.55" y2="1008.00" stroke="#008f39" stroke-width="3.0" stroke-linecap="butt"/>
<line x1="1297.05" y1="1080.70" x2="1312.55" y2="1080.70" stroke="#008f39" stroke-width="3.0" stroke-linecap="butt"/>
<line x1="1346.80" y1="1008.00" x2="1346.80" y2="1092.20" stroke="#008f39" stroke-width="3.0" stroke-linecap="butt"/>
<line x1="1339.05" y1="1008.00" x2="1354.55" y2="1008.00" stroke="#008f39" stroke-width="3.0" stroke-linecap="butt"/>
<line x1="1339.05" y1="1092.20" x2="1354.55" y2="1092.20" stroke="#008f39" stroke-width="3.0" stroke-linecap="butt"/>
<line x1="1388.80" y1="1040.60" x2="1388.80" y2="1155.80" stroke="#008f39" stroke-width="3.0" stroke-linecap="butt"/>
<line x1="1381.05" y1="1040.60" x2="1396.55" y2="1040.60" stroke="#008f39" stroke-width="3.0" stroke-linecap="butt"/>
<line x1="1381.05" y1="1155.80" x2="1396.55" y2="1155.80" stroke="#008f39" stroke-width="3.0" stroke-linecap="butt"/>
<polyline points="884.80,1006.90 1136.80,1024.60 1220.80,1034.10 1262.80,1040.60 1304.80,1037.10 1346.80,1040.60 1388.80,1075.70" fill="none" stroke="#008f39" stroke-width="3.0" stroke-linejoin="miter"/>
<polygon points="1136.80,1031.28 1144.05,1019.13 1129.55,1019.13" fill="#008f39" stroke="none" stroke-width="0"/>
<polygon points="1220.80,1040.78 1228.05,1028.63 1213.55,1028.63" fill="#008f39" stroke="none" stroke-width="0"/>
<polygon points="1262.80,1047.28 1270.05,1035.13 1255.55,1035.13" fill="#008f39" stroke="none" stroke-width="0"/>
<polygon points="1304.80,1043.78 1312.05,1031.63 1297.55,1031.63" fill="#008f39" stroke="none" stroke-width="0"/>
<polygon points="1346.80,1047.28 1354.05,1035.13 1339.55,1035.13" fill="#008f39" stroke="none" stroke-width="0"/>
<polygon points="1388.80,1082.38 1396.05,1070.23 1381.55,1070.23" fill="#008f39" stroke="none" stroke-width="0"/>
<line x1="1136.80" y1="1001.30" x2="1136.80" y2="1018.40" stroke="#3a55a4" stroke-width="3.0" stroke-linecap="butt"/>
<line x1="1129.05" y1="1001.30" x2="1144.55" y2="1001.30" stroke="#3a55a4" stroke-width="3.0" stroke-linecap="butt"/>
<line x1="1129.05" y1="1018.40" x2="1144.55" y2="1018.40" stroke="#3a55a4" stroke-width="3.0" stroke-linecap="butt"/>
<line x1="1304.80" y1="980.20" x2="1304.80" y2="997.00" stroke="#3a55a4" stroke-width="3.0" stroke-linecap="butt"/>
<line x1="1297.05" y1="980.20" x2="1312.55" y2="980.20" stroke="#3a55a4" stroke-width="3.0" stroke-linecap="butt"/>
<line x1="1297.05" y1="997.00" x2="1312.55" y2="997.00" stroke="#3a55a4" stroke-width="3.0" stroke-linecap="butt"/>
<line x1="1346.80" y1="944.70" x2="1346.80" y2="964.30" stroke="#3a55a4" stroke-width="3.0" stroke-linecap="butt"/>
<line x1="1339.05" y1="944.70" x2="1354.55" y2="944.70" stroke="#3a55a4" stroke-width="3.0" stroke-linecap="butt"/>
<line x1="1339.05" y1="964.30" x2="1354.55" y2="964.30" stroke="#3a55a4" stroke-width="3.0" stroke-linecap="butt"/>
<line x1="1388.80" y1="766.90" x2="1388.80" y2="950.30" stroke="#3a55a4" stroke-width="3.0" stroke-linecap="butt"/>
<line x1="1381.05" y1="766.90" x2="1396.55" y2="766.90" stroke="#3a55a4" stroke-width="3.0" stroke-linecap="butt"/>
<line x1="1381.05" y1="950.30" x2="1396.55" y2="950.30" stroke="#3a55a4" stroke-width="3.0" stroke-linecap="butt"/>
<polyline points="884.80,1006.90 1136.80,1006.50 1220.80,1005.00 1262.80,996.50 1304.80,988.60 1346.80,949.30 1388.80,814.80" fill="none" stroke="#3a55a4" stroke-width="3.0" stroke-linejoin="miter"/>
<polygon points="1136.80,999.82 1144.05,1011.97 1129.55,1011.97" fill="#3a55a4" stroke="none" stroke-width="0"/>
<polygon points="1220.80,998.32 1228.05,1010.47 1213.55,1010.47" fill="#3a55a4" stroke="none" stroke-width="0"/>
<polygon points="1262.80,989.82 1270.05,1001.97 1255.55,1001.97" fill="#3a55a4" stroke="none" stroke-width="0"/>
<polygon points="1304.80,981.92 1312.05,994.07 1297.55,994.07" fill="#3a55a4" stroke="none" stroke-width="0"/>
<polygon points="1346.80,942.62 1354.05,954.77 1339.55,954.77" fill="#3a55a4" stroke="none" stroke-width="0"/>
<polygon points="1388.80,808.12 1396.05,820.27 1381.55,820.27" fill="#3a55a4" stroke="none" stroke-width="0"/>
<line x1="1346.80" y1="938.50" x2="1346.80" y2="958.70" stroke="#df3321" stroke-width="3.0" stroke-linecap="butt"/>
<line x1="1339.05" y1="938.50" x2="1354.55" y2="938.50" stroke="#df3321" stroke-width="3.0" stroke-linecap="butt"/>
<line x1="1339.05" y1="958.70" x2="1354.55" y2="958.70" stroke="#df3321" stroke-width="3.0" stroke-linecap="butt"/>
<line x1="1388.80" y1="810.60" x2="1388.80" y2="865.50" stroke="#df3321" stroke-width="3.0" stroke-linecap="butt"/>
<line x1="1381.05" y1="810.60" x2="1396.55" y2="810.60" stroke="#df3321" stroke-width="3.0" stroke-linecap="butt"/>
<line x1="1381.05" y1="865.50" x2="1396.55" y2="865.50" stroke="#df3321" stroke-width="3.0" stroke-linecap="butt"/>
<polyline points="884.80,1006.90 1136.80,1009.50 1220.80,1006.00 1262.80,991.40 1304.80,970.80 1346.80,947.50 1388.80,833.20" fill="none" stroke="#df3321" stroke-width="3.0" stroke-linejoin="miter"/>
<rect x="878.55" y="1000.65" width="12.50" height="12.50" fill="#df3321"/>
<rect x="1130.55" y="1003.25" width="12.50" height="12.50" fill="#df3321"/>
<rect x="1214.55" y="999.75" width="12.50" height="12.50" fill="#df3321"/>
<rect x="1256.55" y="985.15" width="12.50" height="12.50" fill="#df3321"/>
<rect x="1298.55" y="964.55" width="12.50" height="12.50" fill="#df3321"/>
<rect x="1340.55" y="941.25" width="12.50" height="12.50" fill="#df3321"/>
<rect x="1382.55" y="826.95" width="12.50" height="12.50" fill="#df3321"/>
<polyline points="884.80,1006.90 1136.80,1006.90 1220.80,1006.90 1262.80,1006.90 1304.80,1006.90 1346.80,1006.90 1388.80,1006.90" fill="none" stroke="#000000" stroke-width="3.4" stroke-linejoin="miter"/>
<circle cx="884.80" cy="1006.90" r="6.25" fill="#000000"/>
<circle cx="1136.80" cy="1006.90" r="6.25" fill="#000000"/>
<circle cx="1220.80" cy="1006.90" r="6.25" fill="#000000"/>
<circle cx="1262.80" cy="1006.90" r="6.25" fill="#000000"/>
<circle cx="1304.80" cy="1006.90" r="6.25" fill="#000000"/>
<circle cx="1346.80" cy="1006.90" r="6.25" fill="#000000"/>
<circle cx="1388.80" cy="1006.90" r="6.25" fill="#000000"/>
<path d="M1068.80,663.30 L1072.00,663.30 L1072.00,687.20 L1068.80,687.20 L1068.80,667.12 L1064.30,670.47 L1064.00,667.84 Z" fill="#000000"/>
<text transform="translate(1078.45,687.40) scale(1.0397,1)" font-size="34.84" font-weight="normal" fill="#000000">00</text>
<path d="M1082.70,830.00 L1085.90,830.00 L1085.90,855.00 L1082.70,855.00 L1082.70,834.00 L1077.90,837.50 L1077.60,834.75 Z" fill="#000000"/>
<text transform="translate(1093.27,855.20) scale(0.9834,1)" font-size="36.42" font-weight="normal" fill="#000000">0</text>
<path d="M1097.20,998.20 L1100.40,998.20 L1100.40,1021.60 L1097.20,1021.60 L1097.20,1001.94 L1091.40,1005.22 L1091.10,1002.65 Z" fill="#000000"/>
<line x1="884.80" y1="1174.50" x2="884.80" y2="1186.00" stroke="#000000" stroke-width="3.2" stroke-linecap="butt"/>
<line x1="968.80" y1="1174.50" x2="968.80" y2="1186.00" stroke="#000000" stroke-width="3.2" stroke-linecap="butt"/>
<line x1="1052.80" y1="1174.50" x2="1052.80" y2="1186.00" stroke="#000000" stroke-width="3.2" stroke-linecap="butt"/>
<line x1="1136.80" y1="1174.50" x2="1136.80" y2="1186.00" stroke="#000000" stroke-width="3.2" stroke-linecap="butt"/>
<line x1="1220.80" y1="1174.50" x2="1220.80" y2="1186.00" stroke="#000000" stroke-width="3.2" stroke-linecap="butt"/>
<line x1="1304.80" y1="1174.50" x2="1304.80" y2="1186.00" stroke="#000000" stroke-width="3.2" stroke-linecap="butt"/>
<line x1="1388.80" y1="1174.50" x2="1388.80" y2="1186.00" stroke="#000000" stroke-width="3.2" stroke-linecap="butt"/>
<text transform="translate(865.58,1220.50) scale(0.9770,1)" font-size="36.85" font-weight="normal" fill="#000000">-6</text>
<text transform="translate(949.57,1220.50) scale(0.9716,1)" font-size="37.38" font-weight="normal" fill="#000000">-4</text>
<text transform="translate(1033.94,1220.50) scale(1.0000,1)" font-size="36.85" font-weight="normal" fill="#000000">-2</text>
<text transform="translate(1125.34,1220.50) scale(0.9890,1)" font-size="36.85" font-weight="normal" fill="#000000">0</text>
<text transform="translate(1209.52,1220.50) scale(0.9663,1)" font-size="36.85" font-weight="normal" fill="#000000">2</text>
<text transform="translate(1293.60,1220.50) scale(0.9535,1)" font-size="37.38" font-weight="normal" fill="#000000">4</text>
<text transform="translate(1377.15,1220.50) scale(1.0563,1)" font-size="36.85" font-weight="normal" fill="#000000">6</text>
<line x1="1157.00" y1="703.30" x2="1189.50" y2="703.30" stroke="#000000" stroke-width="7" stroke-linecap="round"/>
<circle cx="1173.25" cy="703.30" r="6.50" fill="#000000"/>
<text transform="translate(1208.23,711.30) scale(0.9850,1)" font-size="35.35" font-weight="normal" fill="#000000">Nons</text>
<line x1="1157.00" y1="747.20" x2="1189.50" y2="747.20" stroke="#df3321" stroke-width="7" stroke-linecap="round"/>
<rect x="1166.75" y="740.70" width="13.00" height="13.00" fill="#df3321"/>
<text transform="translate(1210.42,755.60) scale(0.8509,1)" font-size="35.35" font-weight="normal" fill="#000000">Yy1</text>
<line x1="1157.00" y1="791.40" x2="1189.50" y2="791.40" stroke="#3a55a4" stroke-width="7" stroke-linecap="round"/>
<polygon points="1173.25,784.97 1180.25,796.66 1166.25,796.66" fill="#3a55a4" stroke="none" stroke-width="0"/>
<text transform="translate(1209.19,800.20) scale(0.9559,1)" font-size="35.31" font-weight="normal" fill="#000000">Jarid2</text>
<line x1="1157.00" y1="835.00" x2="1189.50" y2="835.00" stroke="#008f39" stroke-width="7" stroke-linecap="round"/>
<polygon points="1173.25,841.43 1180.25,829.74 1166.25,829.74" fill="#008f39" stroke="none" stroke-width="0"/>
<text transform="translate(1208.57,843.70) scale(1.0386,1)" font-size="35.35" font-weight="normal" fill="#000000">Hnrnpu</text>
<text transform="translate(1373.24,753.90) scale(1.0776,1)" font-size="27.96" font-weight="normal" fill="#1a1a1a">p=0.23</text>
<text transform="translate(1373.26,975.40) scale(1.0383,1)" font-size="28.82" font-weight="normal" fill="#1a1a1a">p=0.0049</text>
<text transform="translate(1373.26,1033.00) scale(1.0388,1)" font-size="28.67" font-weight="normal" fill="#1a1a1a">p=0.0002</text>
<defs><linearGradient id="gd" x1="1128.4" y1="0" x2="1286.6" y2="0" gradientUnits="userSpaceOnUse"><stop offset="0" stop-color="#878787"/><stop offset="1" stop-color="#fcfcfc"/></linearGradient></defs>
<polygon points="1128.40,1234.10 1286.60,1272.10 1128.40,1272.10" fill="url(#gd)" stroke="none" stroke-width="0"/>
<polygon points="884.10,1228.10 896.10,1256.10 884.10,1251.10 872.10,1256.10" fill="#1a1a1a" stroke="none" stroke-width="0"/>
<line x1="884.10" y1="1251.10" x2="884.10" y2="1272.10" stroke="#1a1a1a" stroke-width="2.6" stroke-linecap="butt"/>
<text transform="translate(835.10,1316.20) scale(0.9840,1)" font-size="33.10" font-weight="normal" fill="#1a1a1a">shRNA</text>
<text transform="translate(1327.24,1267.30) scale(0.7479,1)" font-size="36.65" font-weight="normal" fill="#000000" stroke="#000000" stroke-width="0.5">Day</text>
<text transform="translate(860.40,1090.84) rotate(-90) scale(0.8005,1)" font-size="38.48" font-weight="normal" fill="#000000">Cherry</text>
<text transform="translate(852.42,1001.02) rotate(-90) scale(0.9259,1)" font-size="41.43" font-weight="normal" fill="#000000">+</text>
<text transform="translate(860.40,976.59) rotate(-90) scale(0.7742,1)" font-size="38.57" font-weight="normal" fill="#000000">GFP</text>
<text transform="translate(852.42,912.50) rotate(-90) scale(0.9655,1)" font-size="41.43" font-weight="normal" fill="#000000">+</text>
<text transform="translate(860.82,892.70) rotate(-90) scale(1.1730,1)" font-size="38.10" font-weight="normal" fill="#000000">/</text>
<text transform="translate(860.40,873.01) rotate(-90) scale(0.8594,1)" font-size="39.56" font-weight="normal" fill="#000000">Nons</text>
<text transform="translate(-1.46,1450.45) scale(0.8053,1)" font-size="45.30" font-weight="bold" fill="#1a1a1a">e</text>
<line x1="160.50" y1="1483.50" x2="160.50" y2="1990.00" stroke="#000000" stroke-width="3.0" stroke-linecap="butt"/>
<line x1="88.50" y1="1988.60" x2="593.60" y2="1988.60" stroke="#000000" stroke-width="3.0" stroke-linecap="butt"/>
<line x1="149.00" y1="1483.50" x2="160.50" y2="1483.50" stroke="#000000" stroke-width="3.0" stroke-linecap="butt"/>
<line x1="149.00" y1="1736.10" x2="160.50" y2="1736.10" stroke="#000000" stroke-width="3.0" stroke-linecap="butt"/>
<line x1="88.53" y1="1988.60" x2="88.53" y2="2000.60" stroke="#000000" stroke-width="3.0" stroke-linecap="butt"/>
<line x1="160.50" y1="1988.60" x2="160.50" y2="2000.60" stroke="#000000" stroke-width="3.0" stroke-linecap="butt"/>
<line x1="232.47" y1="1988.60" x2="232.47" y2="2000.60" stroke="#000000" stroke-width="3.0" stroke-linecap="butt"/>
<line x1="304.44" y1="1988.60" x2="304.44" y2="2000.60" stroke="#000000" stroke-width="3.0" stroke-linecap="butt"/>
<line x1="376.41" y1="1988.60" x2="376.41" y2="2000.60" stroke="#000000" stroke-width="3.0" stroke-linecap="butt"/>
<line x1="448.38" y1="1988.60" x2="448.38" y2="2000.60" stroke="#000000" stroke-width="3.0" stroke-linecap="butt"/>
<line x1="520.35" y1="1988.60" x2="520.35" y2="2000.60" stroke="#000000" stroke-width="3.0" stroke-linecap="butt"/>
<line x1="592.32" y1="1988.60" x2="592.32" y2="2000.60" stroke="#000000" stroke-width="3.0" stroke-linecap="butt"/>
<line x1="232.47" y1="1520.90" x2="232.47" y2="1565.70" stroke="#008f39" stroke-width="3.0" stroke-linecap="butt"/>
<line x1="224.72" y1="1520.90" x2="240.22" y2="1520.90" stroke="#008f39" stroke-width="3.0" stroke-linecap="butt"/>
<line x1="224.72" y1="1565.70" x2="240.22" y2="1565.70" stroke="#008f39" stroke-width="3.0" stroke-linecap="butt"/>
<line x1="304.44" y1="1545.50" x2="304.44" y2="1580.00" stroke="#008f39" stroke-width="3.0" stroke-linecap="butt"/>
<line x1="296.69" y1="1545.50" x2="312.19" y2="1545.50" stroke="#008f39" stroke-width="3.0" stroke-linecap="butt"/>
<line x1="296.69" y1="1580.00" x2="312.19" y2="1580.00" stroke="#008f39" stroke-width="3.0" stroke-linecap="butt"/>
<line x1="448.38" y1="1567.70" x2="448.38" y2="1642.80" stroke="#008f39" stroke-width="3.0" stroke-linecap="butt"/>
<line x1="440.63" y1="1567.70" x2="456.13" y2="1567.70" stroke="#008f39" stroke-width="3.0" stroke-linecap="butt"/>
<line x1="440.63" y1="1642.80" x2="456.13" y2="1642.80" stroke="#008f39" stroke-width="3.0" stroke-linecap="butt"/>
<line x1="520.35" y1="1754.20" x2="520.35" y2="1789.30" stroke="#008f39" stroke-width="3.0" stroke-linecap="butt"/>
<line x1="512.60" y1="1754.20" x2="528.10" y2="1754.20" stroke="#008f39" stroke-width="3.0" stroke-linecap="butt"/>
<line x1="512.60" y1="1789.30" x2="528.10" y2="1789.30" stroke="#008f39" stroke-width="3.0" stroke-linecap="butt"/>
<line x1="592.32" y1="1883.40" x2="592.32" y2="1930.50" stroke="#008f39" stroke-width="3.0" stroke-linecap="butt"/>
<line x1="584.57" y1="1883.40" x2="600.07" y2="1883.40" stroke="#008f39" stroke-width="3.0" stroke-linecap="butt"/>
<line x1="584.57" y1="1930.50" x2="600.07" y2="1930.50" stroke="#008f39" stroke-width="3.0" stroke-linecap="butt"/>
<polyline points="88.53,1485.00 160.50,1520.00 232.47,1547.00 304.44,1562.50 448.38,1606.00 520.35,1770.30 592.32,1905.50" fill="none" stroke="#008f39" stroke-width="2.8" stroke-linejoin="miter"/>
<polygon points="88.53,1491.68 95.78,1479.53 81.28,1479.53" fill="#008f39" stroke="none" stroke-width="0"/>
<polygon points="160.50,1526.68 167.75,1514.53 153.25,1514.53" fill="#008f39" stroke="none" stroke-width="0"/>
<polygon points="232.47,1553.68 239.72,1541.53 225.22,1541.53" fill="#008f39" stroke="none" stroke-width="0"/>
<polygon points="304.44,1569.18 311.69,1557.03 297.19,1557.03" fill="#008f39" stroke="none" stroke-width="0"/>
<polygon points="448.38,1612.68 455.63,1600.53 441.13,1600.53" fill="#008f39" stroke="none" stroke-width="0"/>
<polygon points="520.35,1776.98 527.60,1764.83 513.10,1764.83" fill="#008f39" stroke="none" stroke-width="0"/>
<polygon points="592.32,1912.18 599.57,1900.03 585.07,1900.03" fill="#008f39" stroke="none" stroke-width="0"/>
<line x1="304.44" y1="1572.00" x2="304.44" y2="1602.10" stroke="#3a55a4" stroke-width="3.0" stroke-linecap="butt"/>
<line x1="296.69" y1="1572.00" x2="312.19" y2="1572.00" stroke="#3a55a4" stroke-width="3.0" stroke-linecap="butt"/>
<line x1="296.69" y1="1602.10" x2="312.19" y2="1602.10" stroke="#3a55a4" stroke-width="3.0" stroke-linecap="butt"/>
<line x1="448.38" y1="1630.00" x2="448.38" y2="1678.10" stroke="#3a55a4" stroke-width="3.0" stroke-linecap="butt"/>
<line x1="440.63" y1="1630.00" x2="456.13" y2="1630.00" stroke="#3a55a4" stroke-width="3.0" stroke-linecap="butt"/>
<line x1="440.63" y1="1678.10" x2="456.13" y2="1678.10" stroke="#3a55a4" stroke-width="3.0" stroke-linecap="butt"/>
<line x1="520.35" y1="1805.30" x2="520.35" y2="1829.40" stroke="#3a55a4" stroke-width="3.0" stroke-linecap="butt"/>
<line x1="512.60" y1="1805.30" x2="528.10" y2="1805.30" stroke="#3a55a4" stroke-width="3.0" stroke-linecap="butt"/>
<line x1="512.60" y1="1829.40" x2="528.10" y2="1829.40" stroke="#3a55a4" stroke-width="3.0" stroke-linecap="butt"/>
<polyline points="88.53,1485.00 160.50,1498.50 232.47,1518.70 304.44,1587.10 448.38,1645.10 520.35,1818.30 592.32,1913.50" fill="none" stroke="#3a55a4" stroke-width="2.8" stroke-linejoin="miter"/>
<polygon points="88.53,1478.32 95.78,1490.47 81.28,1490.47" fill="#3a55a4" stroke="none" stroke-width="0"/>
<polygon points="160.50,1491.82 167.75,1503.97 153.25,1503.97" fill="#3a55a4" stroke="none" stroke-width="0"/>
<polygon points="232.47,1512.02 239.72,1524.17 225.22,1524.17" fill="#3a55a4" stroke="none" stroke-width="0"/>
<polygon points="304.44,1580.42 311.69,1592.57 297.19,1592.57" fill="#3a55a4" stroke="none" stroke-width="0"/>
<polygon points="448.38,1638.42 455.63,1650.57 441.13,1650.57" fill="#3a55a4" stroke="none" stroke-width="0"/>
<polygon points="520.35,1811.62 527.60,1823.77 513.10,1823.77" fill="#3a55a4" stroke="none" stroke-width="0"/>
<polygon points="592.32,1906.82 599.57,1918.97 585.07,1918.97" fill="#3a55a4" stroke="none" stroke-width="0"/>
<line x1="160.50" y1="1507.40" x2="160.50" y2="1538.00" stroke="#df3321" stroke-width="3.0" stroke-linecap="butt"/>
<line x1="152.75" y1="1507.40" x2="168.25" y2="1507.40" stroke="#df3321" stroke-width="3.0" stroke-linecap="butt"/>
<line x1="152.75" y1="1538.00" x2="168.25" y2="1538.00" stroke="#df3321" stroke-width="3.0" stroke-linecap="butt"/>
<line x1="232.47" y1="1532.60" x2="232.47" y2="1560.40" stroke="#df3321" stroke-width="3.0" stroke-linecap="butt"/>
<line x1="224.72" y1="1532.60" x2="240.22" y2="1532.60" stroke="#df3321" stroke-width="3.0" stroke-linecap="butt"/>
<line x1="224.72" y1="1560.40" x2="240.22" y2="1560.40" stroke="#df3321" stroke-width="3.0" stroke-linecap="butt"/>
<line x1="304.44" y1="1548.70" x2="304.44" y2="1583.90" stroke="#df3321" stroke-width="3.0" stroke-linecap="butt"/>
<line x1="296.69" y1="1548.70" x2="312.19" y2="1548.70" stroke="#df3321" stroke-width="3.0" stroke-linecap="butt"/>
<line x1="296.69" y1="1583.90" x2="312.19" y2="1583.90" stroke="#df3321" stroke-width="3.0" stroke-linecap="butt"/>
<line x1="448.38" y1="1610.00" x2="448.38" y2="1657.10" stroke="#df3321" stroke-width="3.0" stroke-linecap="butt"/>
<line x1="440.63" y1="1610.00" x2="456.13" y2="1610.00" stroke="#df3321" stroke-width="3.0" stroke-linecap="butt"/>
<line x1="440.63" y1="1657.10" x2="456.13" y2="1657.10" stroke="#df3321" stroke-width="3.0" stroke-linecap="butt"/>
<line x1="520.35" y1="1833.40" x2="520.35" y2="1863.40" stroke="#df3321" stroke-width="3.0" stroke-linecap="butt"/>
<line x1="512.60" y1="1833.40" x2="528.10" y2="1833.40" stroke="#df3321" stroke-width="3.0" stroke-linecap="butt"/>
<line x1="512.60" y1="1863.40" x2="528.10" y2="1863.40" stroke="#df3321" stroke-width="3.0" stroke-linecap="butt"/>
<line x1="592.32" y1="1963.00" x2="592.32" y2="1975.00" stroke="#df3321" stroke-width="3.0" stroke-linecap="butt"/>
<line x1="584.57" y1="1963.00" x2="600.07" y2="1963.00" stroke="#df3321" stroke-width="3.0" stroke-linecap="butt"/>
<line x1="584.57" y1="1975.00" x2="600.07" y2="1975.00" stroke="#df3321" stroke-width="3.0" stroke-linecap="butt"/>
<polyline points="88.53,1485.00 160.50,1524.00 232.47,1547.60 304.44,1566.80 448.38,1633.10 520.35,1849.40 592.32,1969.50" fill="none" stroke="#df3321" stroke-width="2.8" stroke-linejoin="miter"/>
<rect x="82.28" y="1478.75" width="12.50" height="12.50" fill="#df3321"/>
<rect x="154.25" y="1517.75" width="12.50" height="12.50" fill="#df3321"/>
<rect x="226.22" y="1541.35" width="12.50" height="12.50" fill="#df3321"/>
<rect x="298.19" y="1560.55" width="12.50" height="12.50" fill="#df3321"/>
<rect x="442.13" y="1626.85" width="12.50" height="12.50" fill="#df3321"/>
<rect x="514.10" y="1843.15" width="12.50" height="12.50" fill="#df3321"/>
<rect x="586.07" y="1963.25" width="12.50" height="12.50" fill="#df3321"/>
<line x1="160.50" y1="1503.80" x2="160.50" y2="1528.80" stroke="#000000" stroke-width="3.2" stroke-linecap="butt"/>
<line x1="152.75" y1="1503.80" x2="168.25" y2="1503.80" stroke="#000000" stroke-width="3.2" stroke-linecap="butt"/>
<line x1="152.75" y1="1528.80" x2="168.25" y2="1528.80" stroke="#000000" stroke-width="3.2" stroke-linecap="butt"/>
<line x1="232.47" y1="1536.90" x2="232.47" y2="1554.00" stroke="#000000" stroke-width="3.2" stroke-linecap="butt"/>
<line x1="224.72" y1="1536.90" x2="240.22" y2="1536.90" stroke="#000000" stroke-width="3.2" stroke-linecap="butt"/>
<line x1="224.72" y1="1554.00" x2="240.22" y2="1554.00" stroke="#000000" stroke-width="3.2" stroke-linecap="butt"/>
<line x1="304.44" y1="1545.50" x2="304.44" y2="1578.60" stroke="#000000" stroke-width="3.2" stroke-linecap="butt"/>
<line x1="296.69" y1="1545.50" x2="312.19" y2="1545.50" stroke="#000000" stroke-width="3.2" stroke-linecap="butt"/>
<line x1="296.69" y1="1578.60" x2="312.19" y2="1578.60" stroke="#000000" stroke-width="3.2" stroke-linecap="butt"/>
<line x1="448.38" y1="1598.00" x2="448.38" y2="1649.10" stroke="#000000" stroke-width="3.2" stroke-linecap="butt"/>
<line x1="440.63" y1="1598.00" x2="456.13" y2="1598.00" stroke="#000000" stroke-width="3.2" stroke-linecap="butt"/>
<line x1="440.63" y1="1649.10" x2="456.13" y2="1649.10" stroke="#000000" stroke-width="3.2" stroke-linecap="butt"/>
<line x1="520.35" y1="1860.40" x2="520.35" y2="1882.40" stroke="#000000" stroke-width="3.2" stroke-linecap="butt"/>
<line x1="512.60" y1="1860.40" x2="528.10" y2="1860.40" stroke="#000000" stroke-width="3.2" stroke-linecap="butt"/>
<line x1="512.60" y1="1882.40" x2="528.10" y2="1882.40" stroke="#000000" stroke-width="3.2" stroke-linecap="butt"/>
<polyline points="88.53,1485.00 160.50,1517.30 232.47,1545.50 304.44,1562.10 448.38,1624.10 520.35,1871.40 592.32,1973.50" fill="none" stroke="#000000" stroke-width="3.2" stroke-linejoin="miter"/>
<circle cx="88.53" cy="1485.00" r="6.25" fill="#000000"/>
<circle cx="160.50" cy="1517.30" r="6.25" fill="#000000"/>
<circle cx="232.47" cy="1545.50" r="6.25" fill="#000000"/>
<circle cx="304.44" cy="1562.10" r="6.25" fill="#000000"/>
<circle cx="448.38" cy="1624.10" r="6.25" fill="#000000"/>
<circle cx="520.35" cy="1871.40" r="6.25" fill="#000000"/>
<circle cx="592.32" cy="1973.50" r="6.25" fill="#000000"/>
<path d="M96.60,1467.70 L99.80,1467.70 L99.80,1490.80 L96.60,1490.80 L96.60,1471.40 L91.60,1474.63 L91.30,1472.09 Z" fill="#000000"/>
<text transform="translate(106.47,1491.00) scale(1.0579,1)" font-size="33.69" font-weight="normal" fill="#000000">00</text>
<text transform="translate(106.47,1747.30) scale(0.9944,1)" font-size="35.84" font-weight="normal" fill="#000000">50</text>
<rect x="74.1" y="2021.1" width="9.8" height="2.8" fill="#000000"/>
<path d="M93.90,2007.90 L97.10,2007.90 L97.10,2032.80 L93.90,2032.80 L93.90,2011.88 L89.30,2015.37 L89.00,2012.63 Z" fill="#000000"/>
<text transform="translate(151.93,2032.90) scale(1.0940,1)" font-size="33.69" font-weight="normal" fill="#000000">0</text>
<path d="M230.40,2008.10 L233.60,2008.10 L233.60,2032.80 L230.40,2032.80 L230.40,2012.05 L225.40,2015.51 L225.10,2012.79 Z" fill="#000000"/>
<text transform="translate(293.13,2032.90) scale(1.1090,1)" font-size="33.69" font-weight="normal" fill="#000000">2</text>
<text transform="translate(365.73,2032.90) scale(1.0060,1)" font-size="33.69" font-weight="normal" fill="#000000">3</text>
<text transform="translate(436.65,2032.90) scale(1.1007,1)" font-size="34.18" font-weight="normal" fill="#000000">4</text>
<text transform="translate(509.89,2032.90) scale(0.9608,1)" font-size="34.18" font-weight="normal" fill="#000000">5</text>
<text transform="translate(580.32,2032.90) scale(1.1166,1)" font-size="33.69" font-weight="normal" fill="#000000">6</text>
<line x1="234.50" y1="1732.40" x2="267.90" y2="1732.40" stroke="#000000" stroke-width="7" stroke-linecap="round"/>
<circle cx="251.20" cy="1732.40" r="6.50" fill="#000000"/>
<text transform="translate(286.83,1741.70) scale(0.9313,1)" font-size="37.38" font-weight="normal" fill="#000000">Nons</text>
<line x1="234.50" y1="1776.80" x2="267.90" y2="1776.80" stroke="#df3321" stroke-width="7" stroke-linecap="round"/>
<rect x="244.70" y="1770.30" width="13.00" height="13.00" fill="#df3321"/>
<text transform="translate(288.13,1785.40) scale(0.8123,1)" font-size="36.80" font-weight="normal" fill="#000000">Yy1</text>
<line x1="234.50" y1="1820.80" x2="267.90" y2="1820.80" stroke="#3a55a4" stroke-width="7" stroke-linecap="round"/>
<polygon points="251.20,1814.37 258.20,1826.07 244.20,1826.07" fill="#3a55a4" stroke="none" stroke-width="0"/>
<text transform="translate(287.29,1829.50) scale(0.9196,1)" font-size="36.83" font-weight="normal" fill="#000000">Jarid2</text>
<line x1="234.50" y1="1864.90" x2="267.90" y2="1864.90" stroke="#008f39" stroke-width="7" stroke-linecap="round"/>
<polygon points="251.20,1871.34 258.20,1859.63 244.20,1859.63" fill="#008f39" stroke="none" stroke-width="0"/>
<text transform="translate(286.65,1873.80) scale(0.9944,1)" font-size="37.24" font-weight="normal" fill="#000000">Hnrnpu</text>
<text transform="translate(608.38,1902.40) scale(1.0831,1)" font-size="27.24" font-weight="normal" fill="#1a1a1a">p=0.01</text>
<text transform="translate(608.35,1931.50) scale(1.0985,1)" font-size="27.24" font-weight="normal" fill="#1a1a1a">p=0.13</text>
<text transform="translate(608.34,1985.60) scale(1.0448,1)" font-size="28.82" font-weight="normal" fill="#1a1a1a">p=0.94</text>
<defs><linearGradient id="ge" x1="157.8" y1="0" x2="375.8" y2="0" gradientUnits="userSpaceOnUse"><stop offset="0" stop-color="#878787"/><stop offset="1" stop-color="#fcfcfc"/></linearGradient></defs>
<polygon points="157.80,2047.00 375.80,2084.90 157.80,2084.90" fill="url(#ge)" stroke="none" stroke-width="0"/>
<polygon points="302.60,2040.20 314.60,2069.60 302.60,2064.60 290.60,2069.60" fill="#1a1a1a" stroke="none" stroke-width="0"/>
<line x1="302.60" y1="2064.60" x2="302.60" y2="2084.90" stroke="#1a1a1a" stroke-width="2.6" stroke-linecap="butt"/>
<text transform="translate(250.00,2123.00) scale(0.8798,1)" font-size="37.24" font-weight="normal" fill="#1a1a1a">shRNA</text>
<text transform="translate(424.35,2078.40) scale(0.7490,1)" font-size="36.36" font-weight="normal" fill="#000000" stroke="#000000" stroke-width="0.5">Day</text>
<text transform="translate(79.60,1866.76) rotate(-90) scale(0.8859,1)" font-size="37.38" font-weight="normal" fill="#000000">Cherry</text>
<text transform="translate(68.64,1769.96) rotate(-90) scale(0.9696,1)" font-size="40.41" font-weight="normal" fill="#000000">+</text>
<text transform="translate(79.60,1755.82) rotate(-90) scale(0.8024,1)" font-size="37.85" font-weight="normal" fill="#000000">GFP</text>
<text transform="translate(68.64,1682.26) rotate(-90) scale(0.9696,1)" font-size="40.41" font-weight="normal" fill="#000000">+</text>
<text transform="translate(77.30,1662.02) rotate(-90) scale(0.9701,1)" font-size="33.24" font-weight="normal" fill="#000000">(%)</text>
<text transform="translate(749.00,1450.10) scale(0.8896,1)" font-size="44.97" font-weight="bold" fill="#1a1a1a">f</text>
<line x1="954.30" y1="1478.70" x2="954.30" y2="1986.00" stroke="#000000" stroke-width="3.2" stroke-linecap="butt"/>
<line x1="882.40" y1="1984.40" x2="1388.40" y2="1984.40" stroke="#000000" stroke-width="3.2" stroke-linecap="butt"/>
<line x1="942.40" y1="1732.20" x2="954.30" y2="1732.20" stroke="#000000" stroke-width="2.8" stroke-linecap="butt"/>
<line x1="942.40" y1="1479.30" x2="954.30" y2="1479.30" stroke="#000000" stroke-width="2.8" stroke-linecap="butt"/>
<line x1="946.70" y1="1908.97" x2="954.30" y2="1908.97" stroke="#000000" stroke-width="2.6" stroke-linecap="butt"/>
<line x1="946.70" y1="1864.44" x2="954.30" y2="1864.44" stroke="#000000" stroke-width="2.6" stroke-linecap="butt"/>
<line x1="946.70" y1="1832.84" x2="954.30" y2="1832.84" stroke="#000000" stroke-width="2.6" stroke-linecap="butt"/>
<line x1="946.70" y1="1808.33" x2="954.30" y2="1808.33" stroke="#000000" stroke-width="2.6" stroke-linecap="butt"/>
<line x1="946.70" y1="1788.31" x2="954.30" y2="1788.31" stroke="#000000" stroke-width="2.6" stroke-linecap="butt"/>
<line x1="946.70" y1="1771.37" x2="954.30" y2="1771.37" stroke="#000000" stroke-width="2.6" stroke-linecap="butt"/>
<line x1="946.70" y1="1756.71" x2="954.30" y2="1756.71" stroke="#000000" stroke-width="2.6" stroke-linecap="butt"/>
<line x1="946.70" y1="1743.77" x2="954.30" y2="1743.77" stroke="#000000" stroke-width="2.6" stroke-linecap="butt"/>
<line x1="946.70" y1="1656.07" x2="954.30" y2="1656.07" stroke="#000000" stroke-width="2.6" stroke-linecap="butt"/>
<line x1="946.70" y1="1611.54" x2="954.30" y2="1611.54" stroke="#000000" stroke-width="2.6" stroke-linecap="butt"/>
<line x1="946.70" y1="1579.94" x2="954.30" y2="1579.94" stroke="#000000" stroke-width="2.6" stroke-linecap="butt"/>
<line x1="946.70" y1="1555.43" x2="954.30" y2="1555.43" stroke="#000000" stroke-width="2.6" stroke-linecap="butt"/>
<line x1="946.70" y1="1535.41" x2="954.30" y2="1535.41" stroke="#000000" stroke-width="2.6" stroke-linecap="butt"/>
<line x1="946.70" y1="1518.47" x2="954.30" y2="1518.47" stroke="#000000" stroke-width="2.6" stroke-linecap="butt"/>
<line x1="946.70" y1="1503.81" x2="954.30" y2="1503.81" stroke="#000000" stroke-width="2.6" stroke-linecap="butt"/>
<line x1="946.70" y1="1490.87" x2="954.30" y2="1490.87" stroke="#000000" stroke-width="2.6" stroke-linecap="butt"/>
<line x1="1314.85" y1="1655.40" x2="1314.85" y2="1682.30" stroke="#008f39" stroke-width="3.0" stroke-linecap="butt"/>
<line x1="1307.10" y1="1655.40" x2="1322.60" y2="1655.40" stroke="#008f39" stroke-width="3.0" stroke-linecap="butt"/>
<line x1="1307.10" y1="1682.30" x2="1322.60" y2="1682.30" stroke="#008f39" stroke-width="3.0" stroke-linecap="butt"/>
<line x1="1386.94" y1="1544.00" x2="1386.94" y2="1565.70" stroke="#008f39" stroke-width="3.0" stroke-linecap="butt"/>
<line x1="1379.19" y1="1544.00" x2="1394.69" y2="1544.00" stroke="#008f39" stroke-width="3.0" stroke-linecap="butt"/>
<line x1="1379.19" y1="1565.70" x2="1394.69" y2="1565.70" stroke="#008f39" stroke-width="3.0" stroke-linecap="butt"/>
<polyline points="882.31,1732.20 954.40,1732.20 1026.49,1732.20 1098.58,1732.20 1242.76,1723.10 1314.85,1665.60 1386.94,1544.00" fill="none" stroke="#008f39" stroke-width="2.8" stroke-linejoin="miter"/>
<polygon points="1242.76,1729.78 1250.01,1717.63 1235.51,1717.63" fill="#008f39" stroke="none" stroke-width="0"/>
<polygon points="1314.85,1672.28 1322.10,1660.13 1307.60,1660.13" fill="#008f39" stroke="none" stroke-width="0"/>
<polygon points="1386.94,1550.68 1394.19,1538.53 1379.69,1538.53" fill="#008f39" stroke="none" stroke-width="0"/>
<line x1="1314.85" y1="1676.70" x2="1314.85" y2="1699.00" stroke="#3a55a4" stroke-width="3.0" stroke-linecap="butt"/>
<line x1="1307.10" y1="1676.70" x2="1322.60" y2="1676.70" stroke="#3a55a4" stroke-width="3.0" stroke-linecap="butt"/>
<line x1="1307.10" y1="1699.00" x2="1322.60" y2="1699.00" stroke="#3a55a4" stroke-width="3.0" stroke-linecap="butt"/>
<line x1="1386.94" y1="1530.10" x2="1386.94" y2="1565.00" stroke="#3a55a4" stroke-width="3.0" stroke-linecap="butt"/>
<line x1="1379.19" y1="1530.10" x2="1394.69" y2="1530.10" stroke="#3a55a4" stroke-width="3.0" stroke-linecap="butt"/>
<line x1="1379.19" y1="1565.00" x2="1394.69" y2="1565.00" stroke="#3a55a4" stroke-width="3.0" stroke-linecap="butt"/>
<polyline points="882.31,1732.20 954.40,1732.20 1026.49,1728.00 1098.58,1732.20 1242.76,1725.00 1314.85,1687.90 1386.94,1545.90" fill="none" stroke="#3a55a4" stroke-width="2.8" stroke-linejoin="miter"/>
<polygon points="1026.49,1721.32 1033.74,1733.47 1019.24,1733.47" fill="#3a55a4" stroke="none" stroke-width="0"/>
<polygon points="1242.76,1718.32 1250.01,1730.47 1235.51,1730.47" fill="#3a55a4" stroke="none" stroke-width="0"/>
<polygon points="1314.85,1681.22 1322.10,1693.37 1307.60,1693.37" fill="#3a55a4" stroke="none" stroke-width="0"/>
<polygon points="1386.94,1539.22 1394.19,1551.37 1379.69,1551.37" fill="#3a55a4" stroke="none" stroke-width="0"/>
<line x1="1386.94" y1="1679.00" x2="1386.94" y2="1740.80" stroke="#df3321" stroke-width="3.0" stroke-linecap="butt"/>
<line x1="1379.19" y1="1679.00" x2="1394.69" y2="1679.00" stroke="#df3321" stroke-width="3.0" stroke-linecap="butt"/>
<line x1="1379.19" y1="1740.80" x2="1394.69" y2="1740.80" stroke="#df3321" stroke-width="3.0" stroke-linecap="butt"/>
<polyline points="882.31,1732.20 954.40,1732.20 1026.49,1732.20 1098.58,1732.20 1242.76,1732.20 1314.85,1719.40 1386.94,1705.50" fill="none" stroke="#df3321" stroke-width="2.8" stroke-linejoin="miter"/>
<rect x="876.06" y="1725.95" width="12.50" height="12.50" fill="#df3321"/>
<rect x="948.15" y="1725.95" width="12.50" height="12.50" fill="#df3321"/>
<rect x="1020.24" y="1725.95" width="12.50" height="12.50" fill="#df3321"/>
<rect x="1092.33" y="1725.95" width="12.50" height="12.50" fill="#df3321"/>
<rect x="1236.51" y="1725.95" width="12.50" height="12.50" fill="#df3321"/>
<rect x="1308.60" y="1713.15" width="12.50" height="12.50" fill="#df3321"/>
<rect x="1380.69" y="1699.25" width="12.50" height="12.50" fill="#df3321"/>
<polyline points="882.31,1732.20 954.40,1732.20 1026.49,1732.20 1098.58,1732.20 1242.76,1732.20 1314.85,1732.20 1386.94,1732.20" fill="none" stroke="#000000" stroke-width="3.2" stroke-linejoin="miter"/>
<circle cx="882.31" cy="1732.20" r="6.25" fill="#000000"/>
<circle cx="954.40" cy="1732.20" r="6.25" fill="#000000"/>
<circle cx="1026.49" cy="1732.20" r="6.25" fill="#000000"/>
<circle cx="1098.58" cy="1732.20" r="6.25" fill="#000000"/>
<circle cx="1242.76" cy="1732.20" r="6.25" fill="#000000"/>
<circle cx="1314.85" cy="1732.20" r="6.25" fill="#000000"/>
<circle cx="1386.94" cy="1732.20" r="6.25" fill="#000000"/>
<path d="M904.70,1468.60 L907.90,1468.60 L907.90,1491.60 L904.70,1491.60 L904.70,1472.28 L899.70,1475.50 L899.40,1472.97 Z" fill="#000000"/>
<text transform="translate(914.82,1491.80) scale(1.1049,1)" font-size="33.55" font-weight="normal" fill="#000000">0</text>
<path d="M925.20,1719.80 L928.40,1719.80 L928.40,1743.20 L925.20,1743.20 L925.20,1723.54 L920.30,1726.82 L920.00,1724.25 Z" fill="#000000"/>
<line x1="882.31" y1="1984.40" x2="882.31" y2="1996.00" stroke="#000000" stroke-width="3.2" stroke-linecap="butt"/>
<line x1="954.40" y1="1984.40" x2="954.40" y2="1996.00" stroke="#000000" stroke-width="3.2" stroke-linecap="butt"/>
<line x1="1026.49" y1="1984.40" x2="1026.49" y2="1996.00" stroke="#000000" stroke-width="3.2" stroke-linecap="butt"/>
<line x1="1098.58" y1="1984.40" x2="1098.58" y2="1996.00" stroke="#000000" stroke-width="3.2" stroke-linecap="butt"/>
<line x1="1170.67" y1="1984.40" x2="1170.67" y2="1996.00" stroke="#000000" stroke-width="3.2" stroke-linecap="butt"/>
<line x1="1242.76" y1="1984.40" x2="1242.76" y2="1996.00" stroke="#000000" stroke-width="3.2" stroke-linecap="butt"/>
<line x1="1314.85" y1="1984.40" x2="1314.85" y2="1996.00" stroke="#000000" stroke-width="3.2" stroke-linecap="butt"/>
<line x1="1386.94" y1="1984.40" x2="1386.94" y2="1996.00" stroke="#000000" stroke-width="3.2" stroke-linecap="butt"/>
<rect x="868.0" y="2016.4" width="9.8" height="2.8" fill="#000000"/>
<path d="M887.80,2003.20 L891.00,2003.20 L891.00,2027.90 L887.80,2027.90 L887.80,2007.15 L883.20,2010.61 L882.90,2007.89 Z" fill="#000000"/>
<text transform="translate(942.03,2028.40) scale(1.0162,1)" font-size="36.27" font-weight="normal" fill="#000000">0</text>
<path d="M1026.80,2003.20 L1030.00,2003.20 L1030.00,2027.90 L1026.80,2027.90 L1026.80,2007.15 L1022.10,2010.61 L1021.80,2007.89 Z" fill="#000000"/>
<text transform="translate(1086.29,2028.40) scale(0.9998,1)" font-size="36.27" font-weight="normal" fill="#000000">2</text>
<text transform="translate(1158.84,2028.40) scale(0.9286,1)" font-size="36.27" font-weight="normal" fill="#000000">3</text>
<text transform="translate(1230.37,2028.40) scale(1.0009,1)" font-size="36.80" font-weight="normal" fill="#000000">4</text>
<text transform="translate(1303.00,2028.40) scale(0.8810,1)" font-size="36.80" font-weight="normal" fill="#000000">5</text>
<text transform="translate(1374.05,2028.40) scale(1.0193,1)" font-size="36.27" font-weight="normal" fill="#000000">6</text>
<line x1="1011.40" y1="1532.00" x2="1043.60" y2="1532.00" stroke="#000000" stroke-width="7" stroke-linecap="round"/>
<circle cx="1027.50" cy="1532.00" r="6.50" fill="#000000"/>
<text transform="translate(1063.53,1541.30) scale(0.9313,1)" font-size="37.38" font-weight="normal" fill="#000000">Nons</text>
<line x1="1011.40" y1="1576.30" x2="1043.60" y2="1576.30" stroke="#df3321" stroke-width="7" stroke-linecap="round"/>
<rect x="1021.00" y="1569.80" width="13.00" height="13.00" fill="#df3321"/>
<text transform="translate(1064.83,1584.90) scale(0.8123,1)" font-size="36.80" font-weight="normal" fill="#000000">Yy1</text>
<line x1="1011.40" y1="1620.70" x2="1043.60" y2="1620.70" stroke="#3a55a4" stroke-width="7" stroke-linecap="round"/>
<polygon points="1027.50,1614.27 1034.50,1625.97 1020.50,1625.97" fill="#3a55a4" stroke="none" stroke-width="0"/>
<text transform="translate(1063.99,1629.40) scale(0.9196,1)" font-size="36.83" font-weight="normal" fill="#000000">Jarid2</text>
<line x1="1011.40" y1="1664.70" x2="1043.60" y2="1664.70" stroke="#008f39" stroke-width="7" stroke-linecap="round"/>
<polygon points="1027.50,1671.13 1034.50,1659.43 1020.50,1659.43" fill="#008f39" stroke="none" stroke-width="0"/>
<text transform="translate(1063.35,1673.60) scale(0.9944,1)" font-size="37.24" font-weight="normal" fill="#000000">Hnrnpu</text>
<text transform="translate(1373.62,1514.90) scale(1.0576,1)" font-size="27.38" font-weight="normal" fill="#1a1a1a">p=0.0001</text>
<text transform="translate(1373.62,1598.40) scale(1.0576,1)" font-size="27.38" font-weight="normal" fill="#1a1a1a">p=0.0001</text>
<text transform="translate(1373.54,1670.80) scale(1.1035,1)" font-size="27.38" font-weight="normal" fill="#1a1a1a">p=0.09</text>
<defs><linearGradient id="gf" x1="951.9" y1="0" x2="1170.0" y2="0" gradientUnits="userSpaceOnUse"><stop offset="0" stop-color="#878787"/><stop offset="1" stop-color="#fcfcfc"/></linearGradient></defs>
<polygon points="951.90,2042.10 1170.00,2079.20 951.90,2079.20" fill="url(#gf)" stroke="none" stroke-width="0"/>
<polygon points="1097.20,2034.90 1109.20,2063.00 1097.20,2058.00 1085.20,2063.00" fill="#1a1a1a" stroke="none" stroke-width="0"/>
<line x1="1097.20" y1="2058.00" x2="1097.20" y2="2079.20" stroke="#1a1a1a" stroke-width="2.6" stroke-linecap="butt"/>
<text transform="translate(1046.60,2125.00) scale(0.8789,1)" font-size="37.24" font-weight="normal" fill="#1a1a1a">shRNA</text>
<text transform="translate(1216.42,2074.50) scale(0.7759,1)" font-size="35.64" font-weight="normal" fill="#000000" stroke="#000000" stroke-width="0.5">Day</text>
<text transform="translate(859.20,1875.94) rotate(-90) scale(0.8281,1)" font-size="37.24" font-weight="normal" fill="#000000">Cherry</text>
<text transform="translate(851.62,1784.11) rotate(-90) scale(0.8714,1)" font-size="41.43" font-weight="normal" fill="#000000">+</text>
<text transform="translate(859.20,1759.79) rotate(-90) scale(0.7591,1)" font-size="36.70" font-weight="normal" fill="#000000">GFP</text>
<text transform="translate(851.62,1699.55) rotate(-90) scale(0.9903,1)" font-size="41.43" font-weight="normal" fill="#000000">+</text>
<text transform="translate(859.62,1678.40) rotate(-90) scale(1.2108,1)" font-size="38.10" font-weight="normal" fill="#000000">/</text>
<text transform="translate(859.20,1658.86) rotate(-90) scale(0.9019,1)" font-size="38.40" font-weight="normal" fill="#000000">Nons</text>
</svg>
</body></html>
